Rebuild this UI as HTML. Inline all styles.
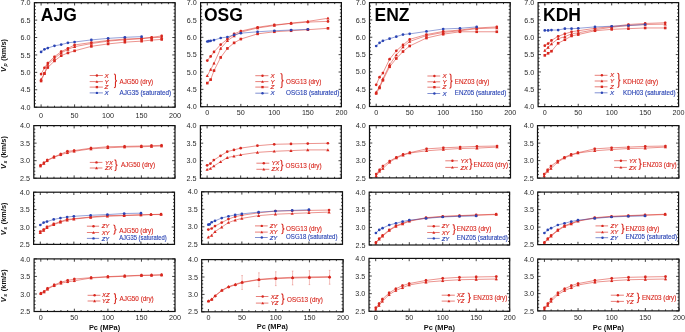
<!DOCTYPE html>
<html><head><meta charset="utf-8"><style>
html,body{margin:0;padding:0;background:#fff;}
body{width:685px;height:332px;overflow:hidden;}
svg{display:block;will-change:transform;}
text{font-family:"Liberation Sans",sans-serif;}
.tl{font-size:7.2px;fill:#2a2a2a;}
.li1{font-size:6.2px;font-style:italic;stroke-width:0.15px;}
.li2{font-size:5.9px;font-style:italic;stroke-width:0.15px;}
.li3{font-size:5.9px;font-style:italic;stroke-width:0.15px;}
.lt{font-size:6.5px;stroke-width:0.12px;}
.big{font-size:17.5px;font-weight:bold;fill:#000;}
.ax{font-size:7.4px;font-weight:bold;fill:#111;}
</style></head><body>
<svg width="685" height="332" viewBox="0 0 685 332">
<rect width="685" height="332" fill="#fff"/>
<path d="M41.1 107.2v-2.8M41.1 2.7v2.8M47.8 107.2v-1.5M47.8 2.7v1.5M54.5 107.2v-1.5M54.5 2.7v1.5M61.2 107.2v-1.5M61.2 2.7v1.5M67.9 107.2v-1.5M67.9 2.7v1.5M74.6 107.2v-2.8M74.6 2.7v2.8M81.3 107.2v-1.5M81.3 2.7v1.5M88 107.2v-1.5M88 2.7v1.5M94.7 107.2v-1.5M94.7 2.7v1.5M101.4 107.2v-1.5M101.4 2.7v1.5M108.1 107.2v-2.8M108.1 2.7v2.8M114.8 107.2v-1.5M114.8 2.7v1.5M121.5 107.2v-1.5M121.5 2.7v1.5M128.2 107.2v-1.5M128.2 2.7v1.5M134.9 107.2v-1.5M134.9 2.7v1.5M141.6 107.2v-2.8M141.6 2.7v2.8M148.3 107.2v-1.5M148.3 2.7v1.5M155 107.2v-1.5M155 2.7v1.5M161.7 107.2v-1.5M161.7 2.7v1.5M168.4 107.2v-1.5M168.4 2.7v1.5M175.1 107.2v-2.8M175.1 2.7v2.8M34.4 107.2h2.8M175.1 107.2h-2.8M34.4 103.72h1.5M175.1 103.72h-1.5M34.4 100.23h1.5M175.1 100.23h-1.5M34.4 96.75h1.5M175.1 96.75h-1.5M34.4 93.27h1.5M175.1 93.27h-1.5M34.4 89.78h2.8M175.1 89.78h-2.8M34.4 86.3h1.5M175.1 86.3h-1.5M34.4 82.82h1.5M175.1 82.82h-1.5M34.4 79.33h1.5M175.1 79.33h-1.5M34.4 75.85h1.5M175.1 75.85h-1.5M34.4 72.37h2.8M175.1 72.37h-2.8M34.4 68.88h1.5M175.1 68.88h-1.5M34.4 65.4h1.5M175.1 65.4h-1.5M34.4 61.92h1.5M175.1 61.92h-1.5M34.4 58.43h1.5M175.1 58.43h-1.5M34.4 54.95h2.8M175.1 54.95h-2.8M34.4 51.47h1.5M175.1 51.47h-1.5M34.4 47.98h1.5M175.1 47.98h-1.5M34.4 44.5h1.5M175.1 44.5h-1.5M34.4 41.02h1.5M175.1 41.02h-1.5M34.4 37.53h2.8M175.1 37.53h-2.8M34.4 34.05h1.5M175.1 34.05h-1.5M34.4 30.57h1.5M175.1 30.57h-1.5M34.4 27.08h1.5M175.1 27.08h-1.5M34.4 23.6h1.5M175.1 23.6h-1.5M34.4 20.12h2.8M175.1 20.12h-2.8M34.4 16.63h1.5M175.1 16.63h-1.5M34.4 13.15h1.5M175.1 13.15h-1.5M34.4 9.67h1.5M175.1 9.67h-1.5M34.4 6.18h1.5M175.1 6.18h-1.5M34.4 2.7h2.8M175.1 2.7h-2.8" stroke="#111" stroke-width="0.8" fill="none"/>
<polyline points="41.1,74.07 44.45,67.83 47.8,62.98 54.5,56.74 61.2,51.54 67.9,48.42 74.6,44.95 91.35,42.52 108.1,40.44 124.85,39.06 141.6,38.36 151.65,37.32 161.7,35.94" fill="none" stroke="#d8281f" stroke-width="0.5"/>
<path d="M41.1 73.38V74.77M40.3 73.38h1.6M40.3 74.77h1.6M44.45 67.14V68.53M43.65 67.14h1.6M43.65 68.53h1.6M47.8 62.29V63.67M47 62.29h1.6M47 63.67h1.6M54.5 56.05V57.43M53.7 56.05h1.6M53.7 57.43h1.6M61.2 50.84V52.23M60.4 50.84h1.6M60.4 52.23h1.6M67.9 47.72V49.11M67.1 47.72h1.6M67.1 49.11h1.6M74.6 44.26V45.64M73.8 44.26h1.6M73.8 45.64h1.6M91.35 41.83V43.22M90.55 41.83h1.6M90.55 43.22h1.6M108.1 39.75V41.14M107.3 39.75h1.6M107.3 41.14h1.6M124.85 38.36V39.75M124.05 38.36h1.6M124.05 39.75h1.6M141.6 37.67V39.06M140.8 37.67h1.6M140.8 39.06h1.6M151.65 36.63V38.02M150.85 36.63h1.6M150.85 38.02h1.6M161.7 35.24V36.63M160.9 35.24h1.6M160.9 36.63h1.6" stroke="#d8281f" stroke-width="0.4" stroke-opacity="0.75" fill="none"/>
<circle cx="41.1" cy="74.07" r="1.35" fill="#d8281f"/>
<circle cx="44.45" cy="67.83" r="1.35" fill="#d8281f"/>
<circle cx="47.8" cy="62.98" r="1.35" fill="#d8281f"/>
<circle cx="54.5" cy="56.74" r="1.35" fill="#d8281f"/>
<circle cx="61.2" cy="51.54" r="1.35" fill="#d8281f"/>
<circle cx="67.9" cy="48.42" r="1.35" fill="#d8281f"/>
<circle cx="74.6" cy="44.95" r="1.35" fill="#d8281f"/>
<circle cx="91.35" cy="42.52" r="1.35" fill="#d8281f"/>
<circle cx="108.1" cy="40.44" r="1.35" fill="#d8281f"/>
<circle cx="124.85" cy="39.06" r="1.35" fill="#d8281f"/>
<circle cx="141.6" cy="38.36" r="1.35" fill="#d8281f"/>
<circle cx="151.65" cy="37.32" r="1.35" fill="#d8281f"/>
<circle cx="161.7" cy="35.94" r="1.35" fill="#d8281f"/>
<polyline points="41.1,79.27 44.45,73.38 47.8,64.37 54.5,58.47 61.2,52.92 67.9,49.46 74.6,46.68 91.35,43.56 108.1,41.14 124.85,39.75 141.6,38.71 151.65,37.67 161.7,37.32" fill="none" stroke="#d8281f" stroke-width="0.5"/>
<path d="M41.1 78.58V79.97M40.3 78.58h1.6M40.3 79.97h1.6M44.45 72.69V74.07M43.65 72.69h1.6M43.65 74.07h1.6M47.8 63.67V65.06M47 63.67h1.6M47 65.06h1.6M54.5 57.78V59.17M53.7 57.78h1.6M53.7 59.17h1.6M61.2 52.23V53.62M60.4 52.23h1.6M60.4 53.62h1.6M67.9 48.76V50.15M67.1 48.76h1.6M67.1 50.15h1.6M74.6 45.99V47.38M73.8 45.99h1.6M73.8 47.38h1.6M91.35 42.87V44.26M90.55 42.87h1.6M90.55 44.26h1.6M108.1 40.44V41.83M107.3 40.44h1.6M107.3 41.83h1.6M124.85 39.06V40.44M124.05 39.06h1.6M124.05 40.44h1.6M141.6 38.02V39.4M140.8 38.02h1.6M140.8 39.4h1.6M151.65 36.98V38.36M150.85 36.98h1.6M150.85 38.36h1.6M161.7 36.63V38.02M160.9 36.63h1.6M160.9 38.02h1.6" stroke="#d8281f" stroke-width="0.4" stroke-opacity="0.75" fill="none"/>
<path d="M41.1 77.67L42.7 80.55L39.5 80.55Z" fill="#d8281f"/>
<path d="M44.45 71.78L46.05 74.66L42.85 74.66Z" fill="#d8281f"/>
<path d="M47.8 62.77L49.4 65.65L46.2 65.65Z" fill="#d8281f"/>
<path d="M54.5 56.87L56.1 59.75L52.9 59.75Z" fill="#d8281f"/>
<path d="M61.2 51.32L62.8 54.2L59.6 54.2Z" fill="#d8281f"/>
<path d="M67.9 47.86L69.5 50.74L66.3 50.74Z" fill="#d8281f"/>
<path d="M74.6 45.08L76.2 47.96L73 47.96Z" fill="#d8281f"/>
<path d="M91.35 41.96L92.95 44.84L89.75 44.84Z" fill="#d8281f"/>
<path d="M108.1 39.54L109.7 42.42L106.5 42.42Z" fill="#d8281f"/>
<path d="M124.85 38.15L126.45 41.03L123.25 41.03Z" fill="#d8281f"/>
<path d="M141.6 37.11L143.2 39.99L140 39.99Z" fill="#d8281f"/>
<path d="M151.65 36.07L153.25 38.95L150.05 38.95Z" fill="#d8281f"/>
<path d="M161.7 35.72L163.3 38.6L160.1 38.6Z" fill="#d8281f"/>
<polyline points="41.1,81.01 44.45,73.38 47.8,67.49 54.5,60.9 61.2,55.7 67.9,52.92 74.6,50.84 91.35,46.34 108.1,43.91 124.85,42.18 141.6,41.14 151.65,40.1 161.7,39.4" fill="none" stroke="#d8281f" stroke-width="0.5"/>
<path d="M41.1 80.31V81.7M40.3 80.31h1.6M40.3 81.7h1.6M44.45 72.69V74.07M43.65 72.69h1.6M43.65 74.07h1.6M47.8 66.79V68.18M47 66.79h1.6M47 68.18h1.6M54.5 60.21V61.59M53.7 60.21h1.6M53.7 61.59h1.6M61.2 55.01V56.39M60.4 55.01h1.6M60.4 56.39h1.6M67.9 52.23V53.62M67.1 52.23h1.6M67.1 53.62h1.6M74.6 50.15V51.54M73.8 50.15h1.6M73.8 51.54h1.6M91.35 45.64V47.03M90.55 45.64h1.6M90.55 47.03h1.6M108.1 43.22V44.6M107.3 43.22h1.6M107.3 44.6h1.6M124.85 41.48V42.87M124.05 41.48h1.6M124.05 42.87h1.6M141.6 40.44V41.83M140.8 40.44h1.6M140.8 41.83h1.6M151.65 39.4V40.79M150.85 39.4h1.6M150.85 40.79h1.6M161.7 38.71V40.1M160.9 38.71h1.6M160.9 40.1h1.6" stroke="#d8281f" stroke-width="0.4" stroke-opacity="0.75" fill="none"/>
<rect x="39.8" y="79.71" width="2.6" height="2.6" fill="#d8281f"/>
<rect x="43.15" y="72.08" width="2.6" height="2.6" fill="#d8281f"/>
<rect x="46.5" y="66.19" width="2.6" height="2.6" fill="#d8281f"/>
<rect x="53.2" y="59.6" width="2.6" height="2.6" fill="#d8281f"/>
<rect x="59.9" y="54.4" width="2.6" height="2.6" fill="#d8281f"/>
<rect x="66.6" y="51.62" width="2.6" height="2.6" fill="#d8281f"/>
<rect x="73.3" y="49.54" width="2.6" height="2.6" fill="#d8281f"/>
<rect x="90.05" y="45.04" width="2.6" height="2.6" fill="#d8281f"/>
<rect x="106.8" y="42.61" width="2.6" height="2.6" fill="#d8281f"/>
<rect x="123.55" y="40.88" width="2.6" height="2.6" fill="#d8281f"/>
<rect x="140.3" y="39.84" width="2.6" height="2.6" fill="#d8281f"/>
<rect x="150.35" y="38.8" width="2.6" height="2.6" fill="#d8281f"/>
<rect x="160.4" y="38.1" width="2.6" height="2.6" fill="#d8281f"/>
<polyline points="41.1,51.88 44.45,49.28 47.8,48.07 54.5,45.82 61.2,44.6 67.9,42.87 74.6,42 91.35,39.92 108.1,38.36 124.85,37.32 141.6,36.63" fill="none" stroke="#2a44b4" stroke-width="0.5"/>
<circle cx="41.1" cy="51.88" r="1.35" fill="#2a44b4"/>
<circle cx="44.45" cy="49.28" r="1.35" fill="#2a44b4"/>
<circle cx="47.8" cy="48.07" r="1.35" fill="#2a44b4"/>
<circle cx="54.5" cy="45.82" r="1.35" fill="#2a44b4"/>
<circle cx="61.2" cy="44.6" r="1.35" fill="#2a44b4"/>
<circle cx="67.9" cy="42.87" r="1.35" fill="#2a44b4"/>
<circle cx="74.6" cy="42" r="1.35" fill="#2a44b4"/>
<circle cx="91.35" cy="39.92" r="1.35" fill="#2a44b4"/>
<circle cx="108.1" cy="38.36" r="1.35" fill="#2a44b4"/>
<circle cx="124.85" cy="37.32" r="1.35" fill="#2a44b4"/>
<circle cx="141.6" cy="36.63" r="1.35" fill="#2a44b4"/>
<rect x="34.4" y="2.7" width="140.7" height="104.5" fill="none" stroke="#111" stroke-width="1.2"/>
<text x="30.6" y="109.8" class="tl" text-anchor="end">4.0</text>
<text x="30.6" y="92.38" class="tl" text-anchor="end">4.5</text>
<text x="30.6" y="74.97" class="tl" text-anchor="end">5.0</text>
<text x="30.6" y="57.55" class="tl" text-anchor="end">5.5</text>
<text x="30.6" y="40.13" class="tl" text-anchor="end">6.0</text>
<text x="30.6" y="22.72" class="tl" text-anchor="end">6.5</text>
<text x="30.6" y="5.3" class="tl" text-anchor="end">7.0</text>
<text x="41.1" y="117.6" class="tl" text-anchor="middle">0</text>
<text x="74.6" y="117.6" class="tl" text-anchor="middle">50</text>
<text x="108.1" y="117.6" class="tl" text-anchor="middle">100</text>
<text x="141.6" y="117.6" class="tl" text-anchor="middle">150</text>
<text x="175.1" y="117.6" class="tl" text-anchor="middle">200</text>
<path d="M89.7 75.5H102.9" stroke="#d8281f" stroke-width="0.6"/>
<circle cx="96.9" cy="75.5" r="1.22" fill="#d8281f"/>
<text x="104.5" y="77.6" class="li1" fill="#d8281f" stroke="#d8281f">X</text>
<path d="M89.7 81.6H102.9" stroke="#d8281f" stroke-width="0.6"/>
<path d="M96.9 80.16L98.34 82.75L95.46 82.75Z" fill="#d8281f"/>
<text x="104.5" y="83.7" class="li1" fill="#d8281f" stroke="#d8281f">Y</text>
<path d="M89.7 87.1H102.9" stroke="#d8281f" stroke-width="0.6"/>
<rect x="95.73" y="85.93" width="2.34" height="2.34" fill="#d8281f"/>
<text x="104.5" y="89.2" class="li1" fill="#d8281f" stroke="#d8281f">Z</text>
<path d="M89.7 92.9H102.9" stroke="#2a44b4" stroke-width="0.6"/>
<circle cx="96.9" cy="92.9" r="1.22" fill="#2a44b4"/>
<text x="104.5" y="95" class="li1" fill="#2a44b4" stroke="#2a44b4">X</text>
<path d="M113.95 74Q115.45 74 115.45 75.5V79.35Q115.45 80.85 116.95 80.85Q115.45 80.85 115.45 82.35V86.2Q115.45 87.7 113.95 87.7" stroke="#d8281f" stroke-width="1.1" fill="none"/>
<text x="119.5" y="84.4" class="lt" fill="#d8281f" stroke="#d8281f" textLength="33.6" lengthAdjust="spacingAndGlyphs">AJG50 (dry)</text>
<text x="119.5" y="95.3" class="lt" fill="#2a44b4" stroke="#2a44b4" textLength="51.5" lengthAdjust="spacingAndGlyphs">AJG35 (saturated)</text>
<text x="40.8" y="21" class="big">AJG</text>
<path d="M207.3 106.7v-2.8M207.3 2.6v2.8M214.01 106.7v-1.5M214.01 2.6v1.5M220.71 106.7v-1.5M220.71 2.6v1.5M227.42 106.7v-1.5M227.42 2.6v1.5M234.12 106.7v-1.5M234.12 2.6v1.5M240.83 106.7v-2.8M240.83 2.6v2.8M247.53 106.7v-1.5M247.53 2.6v1.5M254.24 106.7v-1.5M254.24 2.6v1.5M260.94 106.7v-1.5M260.94 2.6v1.5M267.65 106.7v-1.5M267.65 2.6v1.5M274.35 106.7v-2.8M274.35 2.6v2.8M281.06 106.7v-1.5M281.06 2.6v1.5M287.76 106.7v-1.5M287.76 2.6v1.5M294.47 106.7v-1.5M294.47 2.6v1.5M301.17 106.7v-1.5M301.17 2.6v1.5M307.88 106.7v-2.8M307.88 2.6v2.8M314.58 106.7v-1.5M314.58 2.6v1.5M321.29 106.7v-1.5M321.29 2.6v1.5M327.99 106.7v-1.5M327.99 2.6v1.5M334.7 106.7v-1.5M334.7 2.6v1.5M341.4 106.7v-2.8M341.4 2.6v2.8M200.6 106.7h2.8M341.4 106.7h-2.8M200.6 103.23h1.5M341.4 103.23h-1.5M200.6 99.76h1.5M341.4 99.76h-1.5M200.6 96.29h1.5M341.4 96.29h-1.5M200.6 92.82h1.5M341.4 92.82h-1.5M200.6 89.35h2.8M341.4 89.35h-2.8M200.6 85.88h1.5M341.4 85.88h-1.5M200.6 82.41h1.5M341.4 82.41h-1.5M200.6 78.94h1.5M341.4 78.94h-1.5M200.6 75.47h1.5M341.4 75.47h-1.5M200.6 72h2.8M341.4 72h-2.8M200.6 68.53h1.5M341.4 68.53h-1.5M200.6 65.06h1.5M341.4 65.06h-1.5M200.6 61.59h1.5M341.4 61.59h-1.5M200.6 58.12h1.5M341.4 58.12h-1.5M200.6 54.65h2.8M341.4 54.65h-2.8M200.6 51.18h1.5M341.4 51.18h-1.5M200.6 47.71h1.5M341.4 47.71h-1.5M200.6 44.24h1.5M341.4 44.24h-1.5M200.6 40.77h1.5M341.4 40.77h-1.5M200.6 37.3h2.8M341.4 37.3h-2.8M200.6 33.83h1.5M341.4 33.83h-1.5M200.6 30.36h1.5M341.4 30.36h-1.5M200.6 26.89h1.5M341.4 26.89h-1.5M200.6 23.42h1.5M341.4 23.42h-1.5M200.6 19.95h2.8M341.4 19.95h-2.8M200.6 16.48h1.5M341.4 16.48h-1.5M200.6 13.01h1.5M341.4 13.01h-1.5M200.6 9.54h1.5M341.4 9.54h-1.5M200.6 6.07h1.5M341.4 6.07h-1.5M200.6 2.6h2.8M341.4 2.6h-2.8" stroke="#111" stroke-width="0.8" fill="none"/>
<polyline points="207.3,60.55 210.66,56.39 214.01,51.88 220.71,44.6 227.42,39.06 234.12,33.86 240.83,31.08 257.59,27.27 274.35,24.84 291.11,23.46 307.88,22.07 327.99,21.38" fill="none" stroke="#d8281f" stroke-width="0.5"/>
<path d="M207.3 59.86V61.25M206.5 59.86h1.6M206.5 61.25h1.6M210.66 55.7V57.09M209.86 55.7h1.6M209.86 57.09h1.6M214.01 51.19V52.58M213.21 51.19h1.6M213.21 52.58h1.6M220.71 43.91V45.3M219.91 43.91h1.6M219.91 45.3h1.6M227.42 38.36V39.75M226.62 38.36h1.6M226.62 39.75h1.6M234.12 33.16V34.55M233.32 33.16h1.6M233.32 34.55h1.6M240.83 30.39V31.78M240.03 30.39h1.6M240.03 31.78h1.6M257.59 26.58V27.96M256.79 26.58h1.6M256.79 27.96h1.6M274.35 24.15V25.54M273.55 24.15h1.6M273.55 25.54h1.6M291.11 22.76V24.15M290.31 22.76h1.6M290.31 24.15h1.6M307.88 21.38V22.76M307.08 21.38h1.6M307.08 22.76h1.6M327.99 20.68V22.07M327.19 20.68h1.6M327.19 22.07h1.6" stroke="#d8281f" stroke-width="0.4" stroke-opacity="0.75" fill="none"/>
<circle cx="207.3" cy="60.55" r="1.35" fill="#d8281f"/>
<circle cx="210.66" cy="56.39" r="1.35" fill="#d8281f"/>
<circle cx="214.01" cy="51.88" r="1.35" fill="#d8281f"/>
<circle cx="220.71" cy="44.6" r="1.35" fill="#d8281f"/>
<circle cx="227.42" cy="39.06" r="1.35" fill="#d8281f"/>
<circle cx="234.12" cy="33.86" r="1.35" fill="#d8281f"/>
<circle cx="240.83" cy="31.08" r="1.35" fill="#d8281f"/>
<circle cx="257.59" cy="27.27" r="1.35" fill="#d8281f"/>
<circle cx="274.35" cy="24.84" r="1.35" fill="#d8281f"/>
<circle cx="291.11" cy="23.46" r="1.35" fill="#d8281f"/>
<circle cx="307.88" cy="22.07" r="1.35" fill="#d8281f"/>
<circle cx="327.99" cy="21.38" r="1.35" fill="#d8281f"/>
<polyline points="207.3,75.81 210.66,69.57 214.01,63.33 220.71,48.42 227.42,40.79 234.12,35.94 240.83,32.12 257.59,27.96 274.35,25.54 291.11,23.11 307.88,21.38 327.99,18.25" fill="none" stroke="#d8281f" stroke-width="0.5"/>
<path d="M207.3 75.11V76.5M206.5 75.11h1.6M206.5 76.5h1.6M210.66 68.87V70.26M209.86 68.87h1.6M209.86 70.26h1.6M214.01 62.63V64.02M213.21 62.63h1.6M213.21 64.02h1.6M220.71 47.72V49.11M219.91 47.72h1.6M219.91 49.11h1.6M227.42 40.1V41.48M226.62 40.1h1.6M226.62 41.48h1.6M234.12 35.24V36.63M233.32 35.24h1.6M233.32 36.63h1.6M240.83 31.43V32.82M240.03 31.43h1.6M240.03 32.82h1.6M257.59 27.27V28.66M256.79 27.27h1.6M256.79 28.66h1.6M274.35 24.84V26.23M273.55 24.84h1.6M273.55 26.23h1.6M291.11 22.42V23.8M290.31 22.42h1.6M290.31 23.8h1.6M307.88 20.68V22.07M307.08 20.68h1.6M307.08 22.07h1.6M327.99 17.56V18.95M327.19 17.56h1.6M327.19 18.95h1.6" stroke="#d8281f" stroke-width="0.4" stroke-opacity="0.75" fill="none"/>
<path d="M207.3 74.21L208.9 77.09L205.7 77.09Z" fill="#d8281f"/>
<path d="M210.66 67.97L212.26 70.85L209.06 70.85Z" fill="#d8281f"/>
<path d="M214.01 61.73L215.61 64.61L212.41 64.61Z" fill="#d8281f"/>
<path d="M220.71 46.82L222.31 49.7L219.11 49.7Z" fill="#d8281f"/>
<path d="M227.42 39.19L229.02 42.07L225.82 42.07Z" fill="#d8281f"/>
<path d="M234.12 34.34L235.72 37.22L232.52 37.22Z" fill="#d8281f"/>
<path d="M240.83 30.52L242.43 33.4L239.23 33.4Z" fill="#d8281f"/>
<path d="M257.59 26.36L259.19 29.24L255.99 29.24Z" fill="#d8281f"/>
<path d="M274.35 23.94L275.95 26.82L272.75 26.82Z" fill="#d8281f"/>
<path d="M291.11 21.51L292.71 24.39L289.51 24.39Z" fill="#d8281f"/>
<path d="M307.88 19.78L309.48 22.66L306.28 22.66Z" fill="#d8281f"/>
<path d="M327.99 16.65L329.59 19.53L326.39 19.53Z" fill="#d8281f"/>
<polyline points="207.3,83.09 210.66,79.62 214.01,70.61 220.71,57.43 227.42,48.42 234.12,42.87 240.83,39.06 257.59,33.86 274.35,31.78 291.11,30.74 307.88,29.7 327.99,28.31" fill="none" stroke="#d8281f" stroke-width="0.5"/>
<path d="M207.3 82.39V83.78M206.5 82.39h1.6M206.5 83.78h1.6M210.66 78.93V80.31M209.86 78.93h1.6M209.86 80.31h1.6M214.01 69.91V71.3M213.21 69.91h1.6M213.21 71.3h1.6M220.71 56.74V58.13M219.91 56.74h1.6M219.91 58.13h1.6M227.42 47.72V49.11M226.62 47.72h1.6M226.62 49.11h1.6M234.12 42.18V43.56M233.32 42.18h1.6M233.32 43.56h1.6M240.83 38.36V39.75M240.03 38.36h1.6M240.03 39.75h1.6M257.59 33.16V34.55M256.79 33.16h1.6M256.79 34.55h1.6M274.35 31.08V32.47M273.55 31.08h1.6M273.55 32.47h1.6M291.11 30.04V31.43M290.31 30.04h1.6M290.31 31.43h1.6M307.88 29V30.39M307.08 29h1.6M307.08 30.39h1.6M327.99 27.62V29M327.19 27.62h1.6M327.19 29h1.6" stroke="#d8281f" stroke-width="0.4" stroke-opacity="0.75" fill="none"/>
<rect x="206" y="81.79" width="2.6" height="2.6" fill="#d8281f"/>
<rect x="209.36" y="78.32" width="2.6" height="2.6" fill="#d8281f"/>
<rect x="212.71" y="69.31" width="2.6" height="2.6" fill="#d8281f"/>
<rect x="219.41" y="56.13" width="2.6" height="2.6" fill="#d8281f"/>
<rect x="226.12" y="47.12" width="2.6" height="2.6" fill="#d8281f"/>
<rect x="232.82" y="41.57" width="2.6" height="2.6" fill="#d8281f"/>
<rect x="239.53" y="37.76" width="2.6" height="2.6" fill="#d8281f"/>
<rect x="256.29" y="32.56" width="2.6" height="2.6" fill="#d8281f"/>
<rect x="273.05" y="30.48" width="2.6" height="2.6" fill="#d8281f"/>
<rect x="289.81" y="29.44" width="2.6" height="2.6" fill="#d8281f"/>
<rect x="306.58" y="28.4" width="2.6" height="2.6" fill="#d8281f"/>
<rect x="326.69" y="27.01" width="2.6" height="2.6" fill="#d8281f"/>
<polyline points="207.3,41.48 208.65,41.14 210.66,40.79 214.01,40.1 220.71,38.02 227.42,36.98 234.12,34.9 240.83,33.16 257.59,31.78 274.35,30.74 291.11,30.04 307.88,29.35" fill="none" stroke="#2a44b4" stroke-width="0.5"/>
<circle cx="207.3" cy="41.48" r="1.35" fill="#2a44b4"/>
<circle cx="208.65" cy="41.14" r="1.35" fill="#2a44b4"/>
<circle cx="210.66" cy="40.79" r="1.35" fill="#2a44b4"/>
<circle cx="214.01" cy="40.1" r="1.35" fill="#2a44b4"/>
<circle cx="220.71" cy="38.02" r="1.35" fill="#2a44b4"/>
<circle cx="227.42" cy="36.98" r="1.35" fill="#2a44b4"/>
<circle cx="234.12" cy="34.9" r="1.35" fill="#2a44b4"/>
<circle cx="240.83" cy="33.16" r="1.35" fill="#2a44b4"/>
<circle cx="257.59" cy="31.78" r="1.35" fill="#2a44b4"/>
<circle cx="274.35" cy="30.74" r="1.35" fill="#2a44b4"/>
<circle cx="291.11" cy="30.04" r="1.35" fill="#2a44b4"/>
<circle cx="307.88" cy="29.35" r="1.35" fill="#2a44b4"/>
<rect x="200.6" y="2.6" width="140.8" height="104.1" fill="none" stroke="#111" stroke-width="1.2"/>
<text x="196.8" y="109.3" class="tl" text-anchor="end">4.0</text>
<text x="196.8" y="91.95" class="tl" text-anchor="end">4.5</text>
<text x="196.8" y="74.6" class="tl" text-anchor="end">5.0</text>
<text x="196.8" y="57.25" class="tl" text-anchor="end">5.5</text>
<text x="196.8" y="39.9" class="tl" text-anchor="end">6.0</text>
<text x="196.8" y="22.55" class="tl" text-anchor="end">6.5</text>
<text x="196.8" y="5.2" class="tl" text-anchor="end">7.0</text>
<text x="207.3" y="115.4" class="tl" text-anchor="middle">0</text>
<text x="240.83" y="115.4" class="tl" text-anchor="middle">50</text>
<text x="274.35" y="115.4" class="tl" text-anchor="middle">100</text>
<text x="307.88" y="115.4" class="tl" text-anchor="middle">150</text>
<text x="341.4" y="115.4" class="tl" text-anchor="middle">200</text>
<path d="M255.3 75.7H268.4" stroke="#d8281f" stroke-width="0.6"/>
<circle cx="262.5" cy="75.7" r="1.22" fill="#d8281f"/>
<text x="270.4" y="77.8" class="li1" fill="#d8281f" stroke="#d8281f">X</text>
<path d="M255.3 81.6H268.4" stroke="#d8281f" stroke-width="0.6"/>
<path d="M262.5 80.16L263.94 82.75L261.06 82.75Z" fill="#d8281f"/>
<text x="270.4" y="83.7" class="li1" fill="#d8281f" stroke="#d8281f">Y</text>
<path d="M255.3 87.1H268.4" stroke="#d8281f" stroke-width="0.6"/>
<rect x="261.33" y="85.93" width="2.34" height="2.34" fill="#d8281f"/>
<text x="270.4" y="89.2" class="li1" fill="#d8281f" stroke="#d8281f">Z</text>
<path d="M255.3 93.2H268.4" stroke="#2a44b4" stroke-width="0.6"/>
<circle cx="262.5" cy="93.2" r="1.22" fill="#2a44b4"/>
<text x="270.4" y="95.3" class="li1" fill="#2a44b4" stroke="#2a44b4">X</text>
<path d="M280.5 73.5Q282 73.5 282 75V79.1Q282 80.6 283.5 80.6Q282 80.6 282 82.1V86.2Q282 87.7 280.5 87.7" stroke="#d8281f" stroke-width="1.1" fill="none"/>
<text x="286.1" y="84" class="lt" fill="#d8281f" stroke="#d8281f" textLength="35.2" lengthAdjust="spacingAndGlyphs">OSG13 (dry)</text>
<text x="286.1" y="95.3" class="lt" fill="#2a44b4" stroke="#2a44b4" textLength="53.3" lengthAdjust="spacingAndGlyphs">OSG18 (saturated)</text>
<text x="203.9" y="21" class="big">OSG</text>
<path d="M376.2 106.5v-2.8M376.2 2.6v2.8M382.9 106.5v-1.5M382.9 2.6v1.5M389.6 106.5v-1.5M389.6 2.6v1.5M396.3 106.5v-1.5M396.3 2.6v1.5M403 106.5v-1.5M403 2.6v1.5M409.7 106.5v-2.8M409.7 2.6v2.8M416.4 106.5v-1.5M416.4 2.6v1.5M423.1 106.5v-1.5M423.1 2.6v1.5M429.8 106.5v-1.5M429.8 2.6v1.5M436.5 106.5v-1.5M436.5 2.6v1.5M443.2 106.5v-2.8M443.2 2.6v2.8M449.9 106.5v-1.5M449.9 2.6v1.5M456.6 106.5v-1.5M456.6 2.6v1.5M463.3 106.5v-1.5M463.3 2.6v1.5M470 106.5v-1.5M470 2.6v1.5M476.7 106.5v-2.8M476.7 2.6v2.8M483.4 106.5v-1.5M483.4 2.6v1.5M490.1 106.5v-1.5M490.1 2.6v1.5M496.8 106.5v-1.5M496.8 2.6v1.5M503.5 106.5v-1.5M503.5 2.6v1.5M510.2 106.5v-2.8M510.2 2.6v2.8M369.5 106.5h2.8M510.2 106.5h-2.8M369.5 103.04h1.5M510.2 103.04h-1.5M369.5 99.57h1.5M510.2 99.57h-1.5M369.5 96.11h1.5M510.2 96.11h-1.5M369.5 92.65h1.5M510.2 92.65h-1.5M369.5 89.18h2.8M510.2 89.18h-2.8M369.5 85.72h1.5M510.2 85.72h-1.5M369.5 82.26h1.5M510.2 82.26h-1.5M369.5 78.79h1.5M510.2 78.79h-1.5M369.5 75.33h1.5M510.2 75.33h-1.5M369.5 71.87h2.8M510.2 71.87h-2.8M369.5 68.4h1.5M510.2 68.4h-1.5M369.5 64.94h1.5M510.2 64.94h-1.5M369.5 61.48h1.5M510.2 61.48h-1.5M369.5 58.01h1.5M510.2 58.01h-1.5M369.5 54.55h2.8M510.2 54.55h-2.8M369.5 51.09h1.5M510.2 51.09h-1.5M369.5 47.62h1.5M510.2 47.62h-1.5M369.5 44.16h1.5M510.2 44.16h-1.5M369.5 40.7h1.5M510.2 40.7h-1.5M369.5 37.23h2.8M510.2 37.23h-2.8M369.5 33.77h1.5M510.2 33.77h-1.5M369.5 30.31h1.5M510.2 30.31h-1.5M369.5 26.84h1.5M510.2 26.84h-1.5M369.5 23.38h1.5M510.2 23.38h-1.5M369.5 19.92h2.8M510.2 19.92h-2.8M369.5 16.45h1.5M510.2 16.45h-1.5M369.5 12.99h1.5M510.2 12.99h-1.5M369.5 9.53h1.5M510.2 9.53h-1.5M369.5 6.06h1.5M510.2 6.06h-1.5M369.5 2.6h2.8M510.2 2.6h-2.8" stroke="#111" stroke-width="0.8" fill="none"/>
<polyline points="376.2,84.82 379.55,77.19 382.9,73.03 389.6,59.17 396.3,50.84 403,44.95 409.7,39.4 426.45,34.55 443.2,31.43 459.95,30.04 476.7,27.96 496.8,26.92" fill="none" stroke="#d8281f" stroke-width="0.5"/>
<path d="M376.2 84.13V85.51M375.4 84.13h1.6M375.4 85.51h1.6M379.55 76.5V77.89M378.75 76.5h1.6M378.75 77.89h1.6M382.9 72.34V73.73M382.1 72.34h1.6M382.1 73.73h1.6M389.6 58.47V59.86M388.8 58.47h1.6M388.8 59.86h1.6M396.3 50.15V51.54M395.5 50.15h1.6M395.5 51.54h1.6M403 44.26V45.64M402.2 44.26h1.6M402.2 45.64h1.6M409.7 38.71V40.1M408.9 38.71h1.6M408.9 40.1h1.6M426.45 33.86V35.24M425.65 33.86h1.6M425.65 35.24h1.6M443.2 30.74V32.12M442.4 30.74h1.6M442.4 32.12h1.6M459.95 29.35V30.74M459.15 29.35h1.6M459.15 30.74h1.6M476.7 27.27V28.66M475.9 27.27h1.6M475.9 28.66h1.6M496.8 26.23V27.62M496 26.23h1.6M496 27.62h1.6" stroke="#d8281f" stroke-width="0.4" stroke-opacity="0.75" fill="none"/>
<circle cx="376.2" cy="84.82" r="1.35" fill="#d8281f"/>
<circle cx="379.55" cy="77.19" r="1.35" fill="#d8281f"/>
<circle cx="382.9" cy="73.03" r="1.35" fill="#d8281f"/>
<circle cx="389.6" cy="59.17" r="1.35" fill="#d8281f"/>
<circle cx="396.3" cy="50.84" r="1.35" fill="#d8281f"/>
<circle cx="403" cy="44.95" r="1.35" fill="#d8281f"/>
<circle cx="409.7" cy="39.4" r="1.35" fill="#d8281f"/>
<circle cx="426.45" cy="34.55" r="1.35" fill="#d8281f"/>
<circle cx="443.2" cy="31.43" r="1.35" fill="#d8281f"/>
<circle cx="459.95" cy="30.04" r="1.35" fill="#d8281f"/>
<circle cx="476.7" cy="27.96" r="1.35" fill="#d8281f"/>
<circle cx="496.8" cy="26.92" r="1.35" fill="#d8281f"/>
<polyline points="376.2,92.1 379.55,86.55 382.9,78.93 389.6,64.71 396.3,55.01 403,47.03 409.7,41.48 426.45,35.59 443.2,32.47 459.95,30.74 476.7,28.66 496.8,27.96" fill="none" stroke="#d8281f" stroke-width="0.5"/>
<path d="M376.2 91.41V92.8M375.4 91.41h1.6M375.4 92.8h1.6M379.55 85.86V87.25M378.75 85.86h1.6M378.75 87.25h1.6M382.9 78.23V79.62M382.1 78.23h1.6M382.1 79.62h1.6M389.6 64.02V65.41M388.8 64.02h1.6M388.8 65.41h1.6M396.3 54.31V55.7M395.5 54.31h1.6M395.5 55.7h1.6M403 46.34V47.72M402.2 46.34h1.6M402.2 47.72h1.6M409.7 40.79V42.18M408.9 40.79h1.6M408.9 42.18h1.6M426.45 34.9V36.28M425.65 34.9h1.6M425.65 36.28h1.6M443.2 31.78V33.16M442.4 31.78h1.6M442.4 33.16h1.6M459.95 30.04V31.43M459.15 30.04h1.6M459.15 31.43h1.6M476.7 27.96V29.35M475.9 27.96h1.6M475.9 29.35h1.6M496.8 27.27V28.66M496 27.27h1.6M496 28.66h1.6" stroke="#d8281f" stroke-width="0.4" stroke-opacity="0.75" fill="none"/>
<path d="M376.2 90.5L377.8 93.38L374.6 93.38Z" fill="#d8281f"/>
<path d="M379.55 84.95L381.15 87.83L377.95 87.83Z" fill="#d8281f"/>
<path d="M382.9 77.33L384.5 80.21L381.3 80.21Z" fill="#d8281f"/>
<path d="M389.6 63.11L391.2 65.99L388 65.99Z" fill="#d8281f"/>
<path d="M396.3 53.41L397.9 56.29L394.7 56.29Z" fill="#d8281f"/>
<path d="M403 45.43L404.6 48.31L401.4 48.31Z" fill="#d8281f"/>
<path d="M409.7 39.88L411.3 42.76L408.1 42.76Z" fill="#d8281f"/>
<path d="M426.45 33.99L428.05 36.87L424.85 36.87Z" fill="#d8281f"/>
<path d="M443.2 30.87L444.8 33.75L441.6 33.75Z" fill="#d8281f"/>
<path d="M459.95 29.14L461.55 32.02L458.35 32.02Z" fill="#d8281f"/>
<path d="M476.7 27.06L478.3 29.94L475.1 29.94Z" fill="#d8281f"/>
<path d="M496.8 26.36L498.4 29.24L495.2 29.24Z" fill="#d8281f"/>
<polyline points="376.2,93.49 379.55,87.94 382.9,80.31 389.6,66.79 396.3,58.47 403,51.54 409.7,45.99 426.45,38.02 443.2,34.2 459.95,31.78 476.7,31.78 496.8,31.78" fill="none" stroke="#d8281f" stroke-width="0.5"/>
<path d="M376.2 92.8V94.18M375.4 92.8h1.6M375.4 94.18h1.6M379.55 87.25V88.63M378.75 87.25h1.6M378.75 88.63h1.6M382.9 79.62V81.01M382.1 79.62h1.6M382.1 81.01h1.6M389.6 66.1V67.49M388.8 66.1h1.6M388.8 67.49h1.6M396.3 57.78V59.17M395.5 57.78h1.6M395.5 59.17h1.6M403 50.84V52.23M402.2 50.84h1.6M402.2 52.23h1.6M409.7 45.3V46.68M408.9 45.3h1.6M408.9 46.68h1.6M426.45 37.32V38.71M425.65 37.32h1.6M425.65 38.71h1.6M443.2 33.51V34.9M442.4 33.51h1.6M442.4 34.9h1.6M459.95 31.08V32.47M459.15 31.08h1.6M459.15 32.47h1.6M476.7 31.08V32.47M475.9 31.08h1.6M475.9 32.47h1.6M496.8 31.08V32.47M496 31.08h1.6M496 32.47h1.6" stroke="#d8281f" stroke-width="0.4" stroke-opacity="0.75" fill="none"/>
<rect x="374.9" y="92.19" width="2.6" height="2.6" fill="#d8281f"/>
<rect x="378.25" y="86.64" width="2.6" height="2.6" fill="#d8281f"/>
<rect x="381.6" y="79.01" width="2.6" height="2.6" fill="#d8281f"/>
<rect x="388.3" y="65.49" width="2.6" height="2.6" fill="#d8281f"/>
<rect x="395" y="57.17" width="2.6" height="2.6" fill="#d8281f"/>
<rect x="401.7" y="50.24" width="2.6" height="2.6" fill="#d8281f"/>
<rect x="408.4" y="44.69" width="2.6" height="2.6" fill="#d8281f"/>
<rect x="425.15" y="36.72" width="2.6" height="2.6" fill="#d8281f"/>
<rect x="441.9" y="32.9" width="2.6" height="2.6" fill="#d8281f"/>
<rect x="458.65" y="30.48" width="2.6" height="2.6" fill="#d8281f"/>
<rect x="475.4" y="30.48" width="2.6" height="2.6" fill="#d8281f"/>
<rect x="495.5" y="30.48" width="2.6" height="2.6" fill="#d8281f"/>
<polyline points="376.2,45.99 379.55,42.87 382.9,40.79 389.6,38.71 396.3,36.63 403,34.55 409.7,33.86 426.45,31.43 443.2,29 459.95,28.31 476.7,26.92" fill="none" stroke="#2a44b4" stroke-width="0.5"/>
<circle cx="376.2" cy="45.99" r="1.35" fill="#2a44b4"/>
<circle cx="379.55" cy="42.87" r="1.35" fill="#2a44b4"/>
<circle cx="382.9" cy="40.79" r="1.35" fill="#2a44b4"/>
<circle cx="389.6" cy="38.71" r="1.35" fill="#2a44b4"/>
<circle cx="396.3" cy="36.63" r="1.35" fill="#2a44b4"/>
<circle cx="403" cy="34.55" r="1.35" fill="#2a44b4"/>
<circle cx="409.7" cy="33.86" r="1.35" fill="#2a44b4"/>
<circle cx="426.45" cy="31.43" r="1.35" fill="#2a44b4"/>
<circle cx="443.2" cy="29" r="1.35" fill="#2a44b4"/>
<circle cx="459.95" cy="28.31" r="1.35" fill="#2a44b4"/>
<circle cx="476.7" cy="26.92" r="1.35" fill="#2a44b4"/>
<rect x="369.5" y="2.6" width="140.7" height="103.9" fill="none" stroke="#111" stroke-width="1.2"/>
<text x="365.7" y="109.1" class="tl" text-anchor="end">4.0</text>
<text x="365.7" y="91.78" class="tl" text-anchor="end">4.5</text>
<text x="365.7" y="74.47" class="tl" text-anchor="end">5.0</text>
<text x="365.7" y="57.15" class="tl" text-anchor="end">5.5</text>
<text x="365.7" y="39.83" class="tl" text-anchor="end">6.0</text>
<text x="365.7" y="22.52" class="tl" text-anchor="end">6.5</text>
<text x="365.7" y="5.2" class="tl" text-anchor="end">7.0</text>
<text x="376.2" y="115.4" class="tl" text-anchor="middle">0</text>
<text x="409.7" y="115.4" class="tl" text-anchor="middle">50</text>
<text x="443.2" y="115.4" class="tl" text-anchor="middle">100</text>
<text x="476.7" y="115.4" class="tl" text-anchor="middle">150</text>
<text x="510.2" y="115.4" class="tl" text-anchor="middle">200</text>
<path d="M427.4 76H440.2" stroke="#d8281f" stroke-width="0.6"/>
<circle cx="434.4" cy="76" r="1.22" fill="#d8281f"/>
<text x="442.5" y="78.1" class="li1" fill="#d8281f" stroke="#d8281f">X</text>
<path d="M427.4 81.8H440.2" stroke="#d8281f" stroke-width="0.6"/>
<path d="M434.4 80.36L435.84 82.95L432.96 82.95Z" fill="#d8281f"/>
<text x="442.5" y="83.9" class="li1" fill="#d8281f" stroke="#d8281f">Y</text>
<path d="M427.4 87.2H440.2" stroke="#d8281f" stroke-width="0.6"/>
<rect x="433.23" y="86.03" width="2.34" height="2.34" fill="#d8281f"/>
<text x="442.5" y="89.3" class="li1" fill="#d8281f" stroke="#d8281f">Z</text>
<path d="M427.4 93.5H440.2" stroke="#2a44b4" stroke-width="0.6"/>
<circle cx="434.4" cy="93.5" r="1.22" fill="#2a44b4"/>
<text x="442.5" y="95.6" class="li1" fill="#2a44b4" stroke="#2a44b4">X</text>
<path d="M449.45 74Q450.95 74 450.95 75.5V79.65Q450.95 81.15 452.45 81.15Q450.95 81.15 450.95 82.65V86.8Q450.95 88.3 449.45 88.3" stroke="#d8281f" stroke-width="1.1" fill="none"/>
<text x="454.8" y="84.2" class="lt" fill="#d8281f" stroke="#d8281f" textLength="34.5" lengthAdjust="spacingAndGlyphs">ENZ03 (dry)</text>
<text x="454.8" y="95.3" class="lt" fill="#2a44b4" stroke="#2a44b4" textLength="51.5" lengthAdjust="spacingAndGlyphs">ENZ05 (saturated)</text>
<text x="374.5" y="21" class="big">ENZ</text>
<path d="M544.79 106.6v-2.8M544.79 2.6v2.8M551.48 106.6v-1.5M551.48 2.6v1.5M558.17 106.6v-1.5M558.17 2.6v1.5M564.86 106.6v-1.5M564.86 2.6v1.5M571.55 106.6v-1.5M571.55 2.6v1.5M578.24 106.6v-2.8M578.24 2.6v2.8M584.93 106.6v-1.5M584.93 2.6v1.5M591.62 106.6v-1.5M591.62 2.6v1.5M598.31 106.6v-1.5M598.31 2.6v1.5M605 106.6v-1.5M605 2.6v1.5M611.7 106.6v-2.8M611.7 2.6v2.8M618.39 106.6v-1.5M618.39 2.6v1.5M625.08 106.6v-1.5M625.08 2.6v1.5M631.77 106.6v-1.5M631.77 2.6v1.5M638.46 106.6v-1.5M638.46 2.6v1.5M645.15 106.6v-2.8M645.15 2.6v2.8M651.84 106.6v-1.5M651.84 2.6v1.5M658.53 106.6v-1.5M658.53 2.6v1.5M665.22 106.6v-1.5M665.22 2.6v1.5M671.91 106.6v-1.5M671.91 2.6v1.5M678.6 106.6v-2.8M678.6 2.6v2.8M538.1 106.6h2.8M678.6 106.6h-2.8M538.1 103.13h1.5M678.6 103.13h-1.5M538.1 99.67h1.5M678.6 99.67h-1.5M538.1 96.2h1.5M678.6 96.2h-1.5M538.1 92.73h1.5M678.6 92.73h-1.5M538.1 89.27h2.8M678.6 89.27h-2.8M538.1 85.8h1.5M678.6 85.8h-1.5M538.1 82.33h1.5M678.6 82.33h-1.5M538.1 78.87h1.5M678.6 78.87h-1.5M538.1 75.4h1.5M678.6 75.4h-1.5M538.1 71.93h2.8M678.6 71.93h-2.8M538.1 68.47h1.5M678.6 68.47h-1.5M538.1 65h1.5M678.6 65h-1.5M538.1 61.53h1.5M678.6 61.53h-1.5M538.1 58.07h1.5M678.6 58.07h-1.5M538.1 54.6h2.8M678.6 54.6h-2.8M538.1 51.13h1.5M678.6 51.13h-1.5M538.1 47.67h1.5M678.6 47.67h-1.5M538.1 44.2h1.5M678.6 44.2h-1.5M538.1 40.73h1.5M678.6 40.73h-1.5M538.1 37.27h2.8M678.6 37.27h-2.8M538.1 33.8h1.5M678.6 33.8h-1.5M538.1 30.33h1.5M678.6 30.33h-1.5M538.1 26.87h1.5M678.6 26.87h-1.5M538.1 23.4h1.5M678.6 23.4h-1.5M538.1 19.93h2.8M678.6 19.93h-2.8M538.1 16.47h1.5M678.6 16.47h-1.5M538.1 13h1.5M678.6 13h-1.5M538.1 9.53h1.5M678.6 9.53h-1.5M538.1 6.07h1.5M678.6 6.07h-1.5M538.1 2.6h2.8M678.6 2.6h-2.8" stroke="#111" stroke-width="0.8" fill="none"/>
<polyline points="544.79,45.64 548.14,43.56 551.48,40.44 558.17,36.28 564.86,33.86 571.55,31.78 578.24,30.74 594.97,28.31 611.7,26.58 628.42,24.5 645.15,23.46 665.22,22.76" fill="none" stroke="#d8281f" stroke-width="0.5"/>
<path d="M544.79 44.95V46.34M543.99 44.95h1.6M543.99 46.34h1.6M548.14 42.87V44.26M547.34 42.87h1.6M547.34 44.26h1.6M551.48 39.75V41.14M550.68 39.75h1.6M550.68 41.14h1.6M558.17 35.59V36.98M557.37 35.59h1.6M557.37 36.98h1.6M564.86 33.16V34.55M564.06 33.16h1.6M564.06 34.55h1.6M571.55 31.08V32.47M570.75 31.08h1.6M570.75 32.47h1.6M578.24 30.04V31.43M577.44 30.04h1.6M577.44 31.43h1.6M594.97 27.62V29M594.17 27.62h1.6M594.17 29h1.6M611.7 25.88V27.27M610.9 25.88h1.6M610.9 27.27h1.6M628.42 23.8V25.19M627.62 23.8h1.6M627.62 25.19h1.6M645.15 22.76V24.15M644.35 22.76h1.6M644.35 24.15h1.6M665.22 22.07V23.46M664.42 22.07h1.6M664.42 23.46h1.6" stroke="#d8281f" stroke-width="0.4" stroke-opacity="0.75" fill="none"/>
<circle cx="544.79" cy="45.64" r="1.35" fill="#d8281f"/>
<circle cx="548.14" cy="43.56" r="1.35" fill="#d8281f"/>
<circle cx="551.48" cy="40.44" r="1.35" fill="#d8281f"/>
<circle cx="558.17" cy="36.28" r="1.35" fill="#d8281f"/>
<circle cx="564.86" cy="33.86" r="1.35" fill="#d8281f"/>
<circle cx="571.55" cy="31.78" r="1.35" fill="#d8281f"/>
<circle cx="578.24" cy="30.74" r="1.35" fill="#d8281f"/>
<circle cx="594.97" cy="28.31" r="1.35" fill="#d8281f"/>
<circle cx="611.7" cy="26.58" r="1.35" fill="#d8281f"/>
<circle cx="628.42" cy="24.5" r="1.35" fill="#d8281f"/>
<circle cx="645.15" cy="23.46" r="1.35" fill="#d8281f"/>
<circle cx="665.22" cy="22.76" r="1.35" fill="#d8281f"/>
<polyline points="544.79,50.5 548.14,47.38 551.48,43.91 558.17,38.71 564.86,36.63 571.55,33.86 578.24,32.82 594.97,29.7 611.7,27.27 628.42,25.54 645.15,24.5 665.22,24.15" fill="none" stroke="#d8281f" stroke-width="0.5"/>
<path d="M544.79 49.8V51.19M543.99 49.8h1.6M543.99 51.19h1.6M548.14 46.68V48.07M547.34 46.68h1.6M547.34 48.07h1.6M551.48 43.22V44.6M550.68 43.22h1.6M550.68 44.6h1.6M558.17 38.02V39.4M557.37 38.02h1.6M557.37 39.4h1.6M564.86 35.94V37.32M564.06 35.94h1.6M564.06 37.32h1.6M571.55 33.16V34.55M570.75 33.16h1.6M570.75 34.55h1.6M578.24 32.12V33.51M577.44 32.12h1.6M577.44 33.51h1.6M594.97 29V30.39M594.17 29h1.6M594.17 30.39h1.6M611.7 26.58V27.96M610.9 26.58h1.6M610.9 27.96h1.6M628.42 24.84V26.23M627.62 24.84h1.6M627.62 26.23h1.6M645.15 23.8V25.19M644.35 23.8h1.6M644.35 25.19h1.6M665.22 23.46V24.84M664.42 23.46h1.6M664.42 24.84h1.6" stroke="#d8281f" stroke-width="0.4" stroke-opacity="0.75" fill="none"/>
<path d="M544.79 48.9L546.39 51.78L543.19 51.78Z" fill="#d8281f"/>
<path d="M548.14 45.78L549.74 48.66L546.54 48.66Z" fill="#d8281f"/>
<path d="M551.48 42.31L553.08 45.19L549.88 45.19Z" fill="#d8281f"/>
<path d="M558.17 37.11L559.77 39.99L556.57 39.99Z" fill="#d8281f"/>
<path d="M564.86 35.03L566.46 37.91L563.26 37.91Z" fill="#d8281f"/>
<path d="M571.55 32.26L573.15 35.14L569.95 35.14Z" fill="#d8281f"/>
<path d="M578.24 31.22L579.84 34.1L576.64 34.1Z" fill="#d8281f"/>
<path d="M594.97 28.1L596.57 30.98L593.37 30.98Z" fill="#d8281f"/>
<path d="M611.7 25.67L613.3 28.55L610.1 28.55Z" fill="#d8281f"/>
<path d="M628.42 23.94L630.02 26.82L626.82 26.82Z" fill="#d8281f"/>
<path d="M645.15 22.9L646.75 25.78L643.55 25.78Z" fill="#d8281f"/>
<path d="M665.22 22.55L666.82 25.43L663.62 25.43Z" fill="#d8281f"/>
<polyline points="544.79,55.35 548.14,53.27 551.48,51.19 558.17,43.22 564.86,39.75 571.55,35.94 578.24,34.55 594.97,30.74 611.7,29.35 628.42,28.66 645.15,27.96 665.22,27.96" fill="none" stroke="#d8281f" stroke-width="0.5"/>
<path d="M544.79 54.66V56.05M543.99 54.66h1.6M543.99 56.05h1.6M548.14 52.58V53.96M547.34 52.58h1.6M547.34 53.96h1.6M551.48 50.5V51.88M550.68 50.5h1.6M550.68 51.88h1.6M558.17 42.52V43.91M557.37 42.52h1.6M557.37 43.91h1.6M564.86 39.06V40.44M564.06 39.06h1.6M564.06 40.44h1.6M571.55 35.24V36.63M570.75 35.24h1.6M570.75 36.63h1.6M578.24 33.86V35.24M577.44 33.86h1.6M577.44 35.24h1.6M594.97 30.04V31.43M594.17 30.04h1.6M594.17 31.43h1.6M611.7 28.66V30.04M610.9 28.66h1.6M610.9 30.04h1.6M628.42 27.96V29.35M627.62 27.96h1.6M627.62 29.35h1.6M645.15 27.27V28.66M644.35 27.27h1.6M644.35 28.66h1.6M665.22 27.27V28.66M664.42 27.27h1.6M664.42 28.66h1.6" stroke="#d8281f" stroke-width="0.4" stroke-opacity="0.75" fill="none"/>
<rect x="543.49" y="54.05" width="2.6" height="2.6" fill="#d8281f"/>
<rect x="546.84" y="51.97" width="2.6" height="2.6" fill="#d8281f"/>
<rect x="550.18" y="49.89" width="2.6" height="2.6" fill="#d8281f"/>
<rect x="556.87" y="41.92" width="2.6" height="2.6" fill="#d8281f"/>
<rect x="563.56" y="38.45" width="2.6" height="2.6" fill="#d8281f"/>
<rect x="570.25" y="34.64" width="2.6" height="2.6" fill="#d8281f"/>
<rect x="576.94" y="33.25" width="2.6" height="2.6" fill="#d8281f"/>
<rect x="593.67" y="29.44" width="2.6" height="2.6" fill="#d8281f"/>
<rect x="610.4" y="28.05" width="2.6" height="2.6" fill="#d8281f"/>
<rect x="627.12" y="27.36" width="2.6" height="2.6" fill="#d8281f"/>
<rect x="643.85" y="26.66" width="2.6" height="2.6" fill="#d8281f"/>
<rect x="663.92" y="26.66" width="2.6" height="2.6" fill="#d8281f"/>
<polyline points="544.79,30.39 548.14,30.39 551.48,30.04 558.17,30.04 564.86,28.66 571.55,28.66 578.24,28.31 594.97,26.92 611.7,26.23 628.42,25.54 645.15,24.5" fill="none" stroke="#2a44b4" stroke-width="0.5"/>
<circle cx="544.79" cy="30.39" r="1.35" fill="#2a44b4"/>
<circle cx="548.14" cy="30.39" r="1.35" fill="#2a44b4"/>
<circle cx="551.48" cy="30.04" r="1.35" fill="#2a44b4"/>
<circle cx="558.17" cy="30.04" r="1.35" fill="#2a44b4"/>
<circle cx="564.86" cy="28.66" r="1.35" fill="#2a44b4"/>
<circle cx="571.55" cy="28.66" r="1.35" fill="#2a44b4"/>
<circle cx="578.24" cy="28.31" r="1.35" fill="#2a44b4"/>
<circle cx="594.97" cy="26.92" r="1.35" fill="#2a44b4"/>
<circle cx="611.7" cy="26.23" r="1.35" fill="#2a44b4"/>
<circle cx="628.42" cy="25.54" r="1.35" fill="#2a44b4"/>
<circle cx="645.15" cy="24.5" r="1.35" fill="#2a44b4"/>
<rect x="538.1" y="2.6" width="140.5" height="104" fill="none" stroke="#111" stroke-width="1.2"/>
<text x="534.3" y="109.2" class="tl" text-anchor="end">4.0</text>
<text x="534.3" y="91.87" class="tl" text-anchor="end">4.5</text>
<text x="534.3" y="74.53" class="tl" text-anchor="end">5.0</text>
<text x="534.3" y="57.2" class="tl" text-anchor="end">5.5</text>
<text x="534.3" y="39.87" class="tl" text-anchor="end">6.0</text>
<text x="534.3" y="22.53" class="tl" text-anchor="end">6.5</text>
<text x="534.3" y="5.2" class="tl" text-anchor="end">7.0</text>
<text x="544.79" y="115.1" class="tl" text-anchor="middle">0</text>
<text x="578.24" y="115.1" class="tl" text-anchor="middle">50</text>
<text x="611.7" y="115.1" class="tl" text-anchor="middle">100</text>
<text x="645.15" y="115.1" class="tl" text-anchor="middle">150</text>
<text x="678.6" y="115.1" class="tl" text-anchor="middle">200</text>
<path d="M594.7 75.3H607.5" stroke="#d8281f" stroke-width="0.6"/>
<circle cx="601.9" cy="75.3" r="1.22" fill="#d8281f"/>
<text x="610" y="77.4" class="li1" fill="#d8281f" stroke="#d8281f">X</text>
<path d="M594.7 81H607.5" stroke="#d8281f" stroke-width="0.6"/>
<path d="M601.9 79.56L603.34 82.15L600.46 82.15Z" fill="#d8281f"/>
<text x="610" y="83.1" class="li1" fill="#d8281f" stroke="#d8281f">Y</text>
<path d="M594.7 86.8H607.5" stroke="#d8281f" stroke-width="0.6"/>
<rect x="600.73" y="85.63" width="2.34" height="2.34" fill="#d8281f"/>
<text x="610" y="88.9" class="li1" fill="#d8281f" stroke="#d8281f">Z</text>
<path d="M594.7 92.8H607.5" stroke="#2a44b4" stroke-width="0.6"/>
<circle cx="601.9" cy="92.8" r="1.22" fill="#2a44b4"/>
<text x="610" y="94.9" class="li1" fill="#2a44b4" stroke="#2a44b4">X</text>
<path d="M617.35 73.3Q618.85 73.3 618.85 74.8V78.9Q618.85 80.4 620.35 80.4Q618.85 80.4 618.85 81.9V86Q618.85 87.5 617.35 87.5" stroke="#d8281f" stroke-width="1.1" fill="none"/>
<text x="623.1" y="84.2" class="lt" fill="#d8281f" stroke="#d8281f" textLength="35" lengthAdjust="spacingAndGlyphs">KDH02 (dry)</text>
<text x="623.1" y="95.2" class="lt" fill="#2a44b4" stroke="#2a44b4" textLength="52.4" lengthAdjust="spacingAndGlyphs">KDH03 (saturated)</text>
<text x="543.1" y="21" class="big">KDH</text>
<path d="M40.52 178.2v-2.8M40.52 125.6v2.8M47.25 178.2v-1.5M47.25 125.6v1.5M53.97 178.2v-1.5M53.97 125.6v1.5M60.7 178.2v-1.5M60.7 125.6v1.5M67.42 178.2v-1.5M67.42 125.6v1.5M74.14 178.2v-2.8M74.14 125.6v2.8M80.87 178.2v-1.5M80.87 125.6v1.5M87.59 178.2v-1.5M87.59 125.6v1.5M94.31 178.2v-1.5M94.31 125.6v1.5M101.04 178.2v-1.5M101.04 125.6v1.5M107.76 178.2v-2.8M107.76 125.6v2.8M114.49 178.2v-1.5M114.49 125.6v1.5M121.21 178.2v-1.5M121.21 125.6v1.5M127.93 178.2v-1.5M127.93 125.6v1.5M134.66 178.2v-1.5M134.66 125.6v1.5M141.38 178.2v-2.8M141.38 125.6v2.8M148.1 178.2v-1.5M148.1 125.6v1.5M154.83 178.2v-1.5M154.83 125.6v1.5M161.55 178.2v-1.5M161.55 125.6v1.5M168.28 178.2v-1.5M168.28 125.6v1.5M175 178.2v-2.8M175 125.6v2.8M33.8 178.2h2.8M175 178.2h-2.8M33.8 174.69h1.5M175 174.69h-1.5M33.8 171.19h1.5M175 171.19h-1.5M33.8 167.68h1.5M175 167.68h-1.5M33.8 164.17h1.5M175 164.17h-1.5M33.8 160.67h2.8M175 160.67h-2.8M33.8 157.16h1.5M175 157.16h-1.5M33.8 153.65h1.5M175 153.65h-1.5M33.8 150.15h1.5M175 150.15h-1.5M33.8 146.64h1.5M175 146.64h-1.5M33.8 143.13h2.8M175 143.13h-2.8M33.8 139.63h1.5M175 139.63h-1.5M33.8 136.12h1.5M175 136.12h-1.5M33.8 132.61h1.5M175 132.61h-1.5M33.8 129.11h1.5M175 129.11h-1.5M33.8 125.6h2.8M175 125.6h-2.8" stroke="#111" stroke-width="0.8" fill="none"/>
<polyline points="40.52,165.33 43.89,162.87 47.25,160.07 53.97,156.91 60.7,154.11 67.42,151.3 74.14,150.6 90.95,148.14 107.76,146.74 124.57,146.39 141.38,146.04 151.47,145.69 161.55,145.34" fill="none" stroke="#d8281f" stroke-width="0.5"/>
<path d="M40.52 164.28V166.38M39.72 164.28h1.6M39.72 166.38h1.6M43.89 161.82V163.93M43.09 161.82h1.6M43.09 163.93h1.6M47.25 159.02V161.12M46.45 159.02h1.6M46.45 161.12h1.6M53.97 155.86V157.96M53.17 155.86h1.6M53.17 157.96h1.6M60.7 153.05V155.16M59.9 153.05h1.6M59.9 155.16h1.6M67.42 150.25V152.35M66.62 150.25h1.6M66.62 152.35h1.6M74.14 149.55V151.65M73.34 149.55h1.6M73.34 151.65h1.6M90.95 147.09V149.2M90.15 147.09h1.6M90.15 149.2h1.6M107.76 145.69V147.79M106.96 145.69h1.6M106.96 147.79h1.6M124.57 145.34V147.44M123.77 145.34h1.6M123.77 147.44h1.6M141.38 144.99V147.09M140.58 144.99h1.6M140.58 147.09h1.6M151.47 144.64V146.74M150.67 144.64h1.6M150.67 146.74h1.6M161.55 144.29V146.39M160.75 144.29h1.6M160.75 146.39h1.6" stroke="#d8281f" stroke-width="0.4" stroke-opacity="0.75" fill="none"/>
<circle cx="40.52" cy="165.33" r="1.35" fill="#d8281f"/>
<circle cx="43.89" cy="162.87" r="1.35" fill="#d8281f"/>
<circle cx="47.25" cy="160.07" r="1.35" fill="#d8281f"/>
<circle cx="53.97" cy="156.91" r="1.35" fill="#d8281f"/>
<circle cx="60.7" cy="154.11" r="1.35" fill="#d8281f"/>
<circle cx="67.42" cy="151.3" r="1.35" fill="#d8281f"/>
<circle cx="74.14" cy="150.6" r="1.35" fill="#d8281f"/>
<circle cx="90.95" cy="148.14" r="1.35" fill="#d8281f"/>
<circle cx="107.76" cy="146.74" r="1.35" fill="#d8281f"/>
<circle cx="124.57" cy="146.39" r="1.35" fill="#d8281f"/>
<circle cx="141.38" cy="146.04" r="1.35" fill="#d8281f"/>
<circle cx="151.47" cy="145.69" r="1.35" fill="#d8281f"/>
<circle cx="161.55" cy="145.34" r="1.35" fill="#d8281f"/>
<polyline points="40.52,166.03 43.89,163.58 47.25,160.77 53.97,157.26 60.7,154.81 67.42,152.7 74.14,151.3 90.95,148.85 107.76,147.79 124.57,147.09 141.38,146.74 151.47,146.39 161.55,146.04" fill="none" stroke="#d8281f" stroke-width="0.5"/>
<path d="M40.52 164.98V167.08M39.72 164.98h1.6M39.72 167.08h1.6M43.89 162.52V164.63M43.09 162.52h1.6M43.09 164.63h1.6M47.25 159.72V161.82M46.45 159.72h1.6M46.45 161.82h1.6M53.97 156.21V158.32M53.17 156.21h1.6M53.17 158.32h1.6M60.7 153.76V155.86M59.9 153.76h1.6M59.9 155.86h1.6M67.42 151.65V153.76M66.62 151.65h1.6M66.62 153.76h1.6M74.14 150.25V152.35M73.34 150.25h1.6M73.34 152.35h1.6M90.95 147.79V149.9M90.15 147.79h1.6M90.15 149.9h1.6M107.76 146.74V148.85M106.96 146.74h1.6M106.96 148.85h1.6M124.57 146.04V148.14M123.77 146.04h1.6M123.77 148.14h1.6M141.38 145.69V147.79M140.58 145.69h1.6M140.58 147.79h1.6M151.47 145.34V147.44M150.67 145.34h1.6M150.67 147.44h1.6M161.55 144.99V147.09M160.75 144.99h1.6M160.75 147.09h1.6" stroke="#d8281f" stroke-width="0.4" stroke-opacity="0.75" fill="none"/>
<path d="M40.52 164.43L42.12 167.31L38.92 167.31Z" fill="#d8281f"/>
<path d="M43.89 161.98L45.49 164.86L42.29 164.86Z" fill="#d8281f"/>
<path d="M47.25 159.17L48.85 162.05L45.65 162.05Z" fill="#d8281f"/>
<path d="M53.97 155.66L55.57 158.54L52.37 158.54Z" fill="#d8281f"/>
<path d="M60.7 153.21L62.3 156.09L59.1 156.09Z" fill="#d8281f"/>
<path d="M67.42 151.1L69.02 153.98L65.82 153.98Z" fill="#d8281f"/>
<path d="M74.14 149.7L75.74 152.58L72.54 152.58Z" fill="#d8281f"/>
<path d="M90.95 147.25L92.55 150.13L89.35 150.13Z" fill="#d8281f"/>
<path d="M107.76 146.19L109.36 149.07L106.16 149.07Z" fill="#d8281f"/>
<path d="M124.57 145.49L126.17 148.37L122.97 148.37Z" fill="#d8281f"/>
<path d="M141.38 145.14L142.98 148.02L139.78 148.02Z" fill="#d8281f"/>
<path d="M151.47 144.79L153.07 147.67L149.87 147.67Z" fill="#d8281f"/>
<path d="M161.55 144.44L163.15 147.32L159.95 147.32Z" fill="#d8281f"/>
<rect x="33.8" y="125.6" width="141.2" height="52.6" fill="none" stroke="#111" stroke-width="1.2"/>
<text x="30" y="180.8" class="tl" text-anchor="end">2.5</text>
<text x="30" y="163.27" class="tl" text-anchor="end">3.0</text>
<text x="30" y="145.73" class="tl" text-anchor="end">3.5</text>
<text x="30" y="128.2" class="tl" text-anchor="end">4.0</text>
<path d="M89.8 162.4H102.4" stroke="#d8281f" stroke-width="0.6"/>
<circle cx="96.5" cy="162.4" r="1.22" fill="#d8281f"/>
<text x="105" y="164.5" class="li2" fill="#d8281f" stroke="#d8281f">YX</text>
<path d="M89.8 168H102.4" stroke="#d8281f" stroke-width="0.6"/>
<path d="M96.5 166.56L97.94 169.15L95.06 169.15Z" fill="#d8281f"/>
<text x="105" y="170.1" class="li2" fill="#d8281f" stroke="#d8281f">ZX</text>
<path d="M114.5 159.9Q116 159.9 116 161.4V163.8Q116 165.3 117.5 165.3Q116 165.3 116 166.8V169.2Q116 170.7 114.5 170.7" stroke="#d8281f" stroke-width="1.1" fill="none"/>
<text x="120.9" y="167.2" class="lt" fill="#d8281f" stroke="#d8281f" textLength="34.2" lengthAdjust="spacingAndGlyphs">AJG50 (dry)</text>
<path d="M207.11 178.3v-2.8M207.11 125.6v2.8M213.82 178.3v-1.5M213.82 125.6v1.5M220.53 178.3v-1.5M220.53 125.6v1.5M227.24 178.3v-1.5M227.24 125.6v1.5M233.95 178.3v-1.5M233.95 125.6v1.5M240.66 178.3v-2.8M240.66 125.6v2.8M247.37 178.3v-1.5M247.37 125.6v1.5M254.08 178.3v-1.5M254.08 125.6v1.5M260.79 178.3v-1.5M260.79 125.6v1.5M267.5 178.3v-1.5M267.5 125.6v1.5M274.2 178.3v-2.8M274.2 125.6v2.8M280.91 178.3v-1.5M280.91 125.6v1.5M287.62 178.3v-1.5M287.62 125.6v1.5M294.33 178.3v-1.5M294.33 125.6v1.5M301.04 178.3v-1.5M301.04 125.6v1.5M307.75 178.3v-2.8M307.75 125.6v2.8M314.46 178.3v-1.5M314.46 125.6v1.5M321.17 178.3v-1.5M321.17 125.6v1.5M327.88 178.3v-1.5M327.88 125.6v1.5M334.59 178.3v-1.5M334.59 125.6v1.5M341.3 178.3v-2.8M341.3 125.6v2.8M200.4 178.3h2.8M341.3 178.3h-2.8M200.4 174.79h1.5M341.3 174.79h-1.5M200.4 171.27h1.5M341.3 171.27h-1.5M200.4 167.76h1.5M341.3 167.76h-1.5M200.4 164.25h1.5M341.3 164.25h-1.5M200.4 160.73h2.8M341.3 160.73h-2.8M200.4 157.22h1.5M341.3 157.22h-1.5M200.4 153.71h1.5M341.3 153.71h-1.5M200.4 150.19h1.5M341.3 150.19h-1.5M200.4 146.68h1.5M341.3 146.68h-1.5M200.4 143.17h2.8M341.3 143.17h-2.8M200.4 139.65h1.5M341.3 139.65h-1.5M200.4 136.14h1.5M341.3 136.14h-1.5M200.4 132.63h1.5M341.3 132.63h-1.5M200.4 129.11h1.5M341.3 129.11h-1.5M200.4 125.6h2.8M341.3 125.6h-2.8" stroke="#111" stroke-width="0.8" fill="none"/>
<polyline points="207.11,165.33 210.46,163.58 213.82,160.07 220.53,155.86 227.24,151.65 233.95,149.9 240.66,148.14 257.43,145.69 274.2,144.29 290.98,143.94 307.75,143.59 327.88,143.24" fill="none" stroke="#d8281f" stroke-width="0.5"/>
<circle cx="207.11" cy="165.33" r="1.35" fill="#d8281f"/>
<circle cx="210.46" cy="163.58" r="1.35" fill="#d8281f"/>
<circle cx="213.82" cy="160.07" r="1.35" fill="#d8281f"/>
<circle cx="220.53" cy="155.86" r="1.35" fill="#d8281f"/>
<circle cx="227.24" cy="151.65" r="1.35" fill="#d8281f"/>
<circle cx="233.95" cy="149.9" r="1.35" fill="#d8281f"/>
<circle cx="240.66" cy="148.14" r="1.35" fill="#d8281f"/>
<circle cx="257.43" cy="145.69" r="1.35" fill="#d8281f"/>
<circle cx="274.2" cy="144.29" r="1.35" fill="#d8281f"/>
<circle cx="290.98" cy="143.94" r="1.35" fill="#d8281f"/>
<circle cx="307.75" cy="143.59" r="1.35" fill="#d8281f"/>
<circle cx="327.88" cy="143.24" r="1.35" fill="#d8281f"/>
<polyline points="207.11,169.54 210.46,168.49 213.82,166.03 220.53,161.82 227.24,157.61 233.95,156.21 240.66,154.81 257.43,152.35 274.2,151.3 290.98,150.6 307.75,149.9 327.88,149.9" fill="none" stroke="#d8281f" stroke-width="0.5"/>
<path d="M207.11 167.94L208.71 170.82L205.51 170.82Z" fill="#d8281f"/>
<path d="M210.46 166.89L212.06 169.77L208.86 169.77Z" fill="#d8281f"/>
<path d="M213.82 164.43L215.42 167.31L212.22 167.31Z" fill="#d8281f"/>
<path d="M220.53 160.22L222.13 163.1L218.93 163.1Z" fill="#d8281f"/>
<path d="M227.24 156.01L228.84 158.89L225.64 158.89Z" fill="#d8281f"/>
<path d="M233.95 154.61L235.55 157.49L232.35 157.49Z" fill="#d8281f"/>
<path d="M240.66 153.21L242.26 156.09L239.06 156.09Z" fill="#d8281f"/>
<path d="M257.43 150.75L259.03 153.63L255.83 153.63Z" fill="#d8281f"/>
<path d="M274.2 149.7L275.8 152.58L272.6 152.58Z" fill="#d8281f"/>
<path d="M290.98 149L292.58 151.88L289.38 151.88Z" fill="#d8281f"/>
<path d="M307.75 148.3L309.35 151.18L306.15 151.18Z" fill="#d8281f"/>
<path d="M327.88 148.3L329.48 151.18L326.28 151.18Z" fill="#d8281f"/>
<rect x="200.4" y="125.6" width="140.9" height="52.7" fill="none" stroke="#111" stroke-width="1.2"/>
<text x="196.6" y="180.9" class="tl" text-anchor="end">2.5</text>
<text x="196.6" y="163.33" class="tl" text-anchor="end">3.0</text>
<text x="196.6" y="145.77" class="tl" text-anchor="end">3.5</text>
<text x="196.6" y="128.2" class="tl" text-anchor="end">4.0</text>
<path d="M256.4 163.2H269.3" stroke="#d8281f" stroke-width="0.6"/>
<circle cx="263.8" cy="163.2" r="1.22" fill="#d8281f"/>
<text x="271.6" y="165.3" class="li2" fill="#d8281f" stroke="#d8281f">YX</text>
<path d="M256.4 169.3H269.3" stroke="#d8281f" stroke-width="0.6"/>
<path d="M263.8 167.86L265.24 170.45L262.36 170.45Z" fill="#d8281f"/>
<text x="271.6" y="171.4" class="li2" fill="#d8281f" stroke="#d8281f">ZX</text>
<path d="M280.3 160.3Q281.8 160.3 281.8 161.8V164.05Q281.8 165.55 283.3 165.55Q281.8 165.55 281.8 167.05V169.3Q281.8 170.8 280.3 170.8" stroke="#d8281f" stroke-width="1.1" fill="none"/>
<text x="285.6" y="167.9" class="lt" fill="#d8281f" stroke="#d8281f" textLength="36" lengthAdjust="spacingAndGlyphs">OSG13 (dry)</text>
<path d="M376.21 177.9v-2.8M376.21 125.6v2.8M382.93 177.9v-1.5M382.93 125.6v1.5M389.64 177.9v-1.5M389.64 125.6v1.5M396.36 177.9v-1.5M396.36 125.6v1.5M403.07 177.9v-1.5M403.07 125.6v1.5M409.79 177.9v-2.8M409.79 125.6v2.8M416.5 177.9v-1.5M416.5 125.6v1.5M423.21 177.9v-1.5M423.21 125.6v1.5M429.93 177.9v-1.5M429.93 125.6v1.5M436.64 177.9v-1.5M436.64 125.6v1.5M443.36 177.9v-2.8M443.36 125.6v2.8M450.07 177.9v-1.5M450.07 125.6v1.5M456.79 177.9v-1.5M456.79 125.6v1.5M463.5 177.9v-1.5M463.5 125.6v1.5M470.21 177.9v-1.5M470.21 125.6v1.5M476.93 177.9v-2.8M476.93 125.6v2.8M483.64 177.9v-1.5M483.64 125.6v1.5M490.36 177.9v-1.5M490.36 125.6v1.5M497.07 177.9v-1.5M497.07 125.6v1.5M503.79 177.9v-1.5M503.79 125.6v1.5M510.5 177.9v-2.8M510.5 125.6v2.8M369.5 177.9h2.8M510.5 177.9h-2.8M369.5 174.41h1.5M510.5 174.41h-1.5M369.5 170.93h1.5M510.5 170.93h-1.5M369.5 167.44h1.5M510.5 167.44h-1.5M369.5 163.95h1.5M510.5 163.95h-1.5M369.5 160.47h2.8M510.5 160.47h-2.8M369.5 156.98h1.5M510.5 156.98h-1.5M369.5 153.49h1.5M510.5 153.49h-1.5M369.5 150.01h1.5M510.5 150.01h-1.5M369.5 146.52h1.5M510.5 146.52h-1.5M369.5 143.03h2.8M510.5 143.03h-2.8M369.5 139.55h1.5M510.5 139.55h-1.5M369.5 136.06h1.5M510.5 136.06h-1.5M369.5 132.57h1.5M510.5 132.57h-1.5M369.5 129.09h1.5M510.5 129.09h-1.5M369.5 125.6h2.8M510.5 125.6h-2.8" stroke="#111" stroke-width="0.8" fill="none"/>
<polyline points="376.21,174.1 379.57,169.89 382.93,166.03 389.64,161.12 396.36,157.26 403.07,154.46 409.79,152.7 426.57,148.85 443.36,147.79 460.14,147.09 476.93,146.39 497.07,146.04" fill="none" stroke="#d8281f" stroke-width="0.5"/>
<path d="M376.21 173.4V174.8M375.41 173.4h1.6M375.41 174.8h1.6M379.57 169.19V170.59M378.77 169.19h1.6M378.77 170.59h1.6M382.93 165.33V166.73M382.13 165.33h1.6M382.13 166.73h1.6M389.64 160.42V161.82M388.84 160.42h1.6M388.84 161.82h1.6M396.36 156.56V157.96M395.56 156.56h1.6M395.56 157.96h1.6M403.07 153.76V155.16M402.27 153.76h1.6M402.27 155.16h1.6M409.79 152V153.41M408.99 152h1.6M408.99 153.41h1.6M426.57 148.14V149.55M425.77 148.14h1.6M425.77 149.55h1.6M443.36 147.09V148.5M442.56 147.09h1.6M442.56 148.5h1.6M460.14 146.39V147.79M459.34 146.39h1.6M459.34 147.79h1.6M476.93 145.69V147.09M476.13 145.69h1.6M476.13 147.09h1.6M497.07 145.34V146.74M496.27 145.34h1.6M496.27 146.74h1.6" stroke="#d8281f" stroke-width="0.4" stroke-opacity="0.75" fill="none"/>
<circle cx="376.21" cy="174.1" r="1.35" fill="#d8281f"/>
<circle cx="379.57" cy="169.89" r="1.35" fill="#d8281f"/>
<circle cx="382.93" cy="166.03" r="1.35" fill="#d8281f"/>
<circle cx="389.64" cy="161.12" r="1.35" fill="#d8281f"/>
<circle cx="396.36" cy="157.26" r="1.35" fill="#d8281f"/>
<circle cx="403.07" cy="154.46" r="1.35" fill="#d8281f"/>
<circle cx="409.79" cy="152.7" r="1.35" fill="#d8281f"/>
<circle cx="426.57" cy="148.85" r="1.35" fill="#d8281f"/>
<circle cx="443.36" cy="147.79" r="1.35" fill="#d8281f"/>
<circle cx="460.14" cy="147.09" r="1.35" fill="#d8281f"/>
<circle cx="476.93" cy="146.39" r="1.35" fill="#d8281f"/>
<circle cx="497.07" cy="146.04" r="1.35" fill="#d8281f"/>
<polyline points="376.21,175.85 379.57,171.29 382.93,168.49 389.64,162.17 396.36,157.96 403.07,155.16 409.79,153.05 426.57,150.78 443.36,149.55 460.14,148.5 476.93,148.14 497.07,147.09" fill="none" stroke="#d8281f" stroke-width="0.5"/>
<path d="M376.21 175.15V176.55M375.41 175.15h1.6M375.41 176.55h1.6M379.57 170.59V171.99M378.77 170.59h1.6M378.77 171.99h1.6M382.93 167.78V169.19M382.13 167.78h1.6M382.13 169.19h1.6M389.64 161.47V162.87M388.84 161.47h1.6M388.84 162.87h1.6M396.36 157.26V158.67M395.56 157.26h1.6M395.56 158.67h1.6M403.07 154.46V155.86M402.27 154.46h1.6M402.27 155.86h1.6M409.79 152.35V153.76M408.99 152.35h1.6M408.99 153.76h1.6M426.57 150.07V151.48M425.77 150.07h1.6M425.77 151.48h1.6M443.36 148.85V150.25M442.56 148.85h1.6M442.56 150.25h1.6M460.14 147.79V149.2M459.34 147.79h1.6M459.34 149.2h1.6M476.93 147.44V148.85M476.13 147.44h1.6M476.13 148.85h1.6M497.07 146.39V147.79M496.27 146.39h1.6M496.27 147.79h1.6" stroke="#d8281f" stroke-width="0.4" stroke-opacity="0.75" fill="none"/>
<path d="M376.21 174.25L377.81 177.13L374.61 177.13Z" fill="#d8281f"/>
<path d="M379.57 169.69L381.17 172.57L377.97 172.57Z" fill="#d8281f"/>
<path d="M382.93 166.89L384.53 169.77L381.33 169.77Z" fill="#d8281f"/>
<path d="M389.64 160.57L391.24 163.45L388.04 163.45Z" fill="#d8281f"/>
<path d="M396.36 156.36L397.96 159.24L394.76 159.24Z" fill="#d8281f"/>
<path d="M403.07 153.56L404.67 156.44L401.47 156.44Z" fill="#d8281f"/>
<path d="M409.79 151.45L411.39 154.33L408.19 154.33Z" fill="#d8281f"/>
<path d="M426.57 149.18L428.17 152.06L424.97 152.06Z" fill="#d8281f"/>
<path d="M443.36 147.95L444.96 150.83L441.76 150.83Z" fill="#d8281f"/>
<path d="M460.14 146.9L461.74 149.78L458.54 149.78Z" fill="#d8281f"/>
<path d="M476.93 146.54L478.53 149.42L475.33 149.42Z" fill="#d8281f"/>
<path d="M497.07 145.49L498.67 148.37L495.47 148.37Z" fill="#d8281f"/>
<rect x="369.5" y="125.6" width="141" height="52.3" fill="none" stroke="#111" stroke-width="1.2"/>
<text x="365.7" y="180.5" class="tl" text-anchor="end">2.5</text>
<text x="365.7" y="163.07" class="tl" text-anchor="end">3.0</text>
<text x="365.7" y="145.63" class="tl" text-anchor="end">3.5</text>
<text x="365.7" y="128.2" class="tl" text-anchor="end">4.0</text>
<path d="M445.3 160.8H457.9" stroke="#d8281f" stroke-width="0.6"/>
<circle cx="452.4" cy="160.8" r="1.22" fill="#d8281f"/>
<text x="460.5" y="162.9" class="li2" fill="#d8281f" stroke="#d8281f">YX</text>
<path d="M445.3 167.4H457.9" stroke="#d8281f" stroke-width="0.6"/>
<path d="M452.4 165.96L453.84 168.55L450.96 168.55Z" fill="#d8281f"/>
<text x="460.5" y="169.5" class="li2" fill="#d8281f" stroke="#d8281f">ZX</text>
<path d="M469.4 158.9Q470.9 158.9 470.9 160.4V162.7Q470.9 164.2 472.4 164.2Q470.9 164.2 470.9 165.7V168Q470.9 169.5 469.4 169.5" stroke="#d8281f" stroke-width="1.1" fill="none"/>
<text x="473.4" y="166.8" class="lt" fill="#d8281f" stroke="#d8281f" textLength="34.7" lengthAdjust="spacingAndGlyphs">ENZ03 (dry)</text>
<path d="M544.23 178.1v-2.8M544.23 125.6v2.8M550.97 178.1v-1.5M550.97 125.6v1.5M557.7 178.1v-1.5M557.7 125.6v1.5M564.43 178.1v-1.5M564.43 125.6v1.5M571.17 178.1v-1.5M571.17 125.6v1.5M577.9 178.1v-2.8M577.9 125.6v2.8M584.63 178.1v-1.5M584.63 125.6v1.5M591.37 178.1v-1.5M591.37 125.6v1.5M598.1 178.1v-1.5M598.1 125.6v1.5M604.83 178.1v-1.5M604.83 125.6v1.5M611.57 178.1v-2.8M611.57 125.6v2.8M618.3 178.1v-1.5M618.3 125.6v1.5M625.03 178.1v-1.5M625.03 125.6v1.5M631.77 178.1v-1.5M631.77 125.6v1.5M638.5 178.1v-1.5M638.5 125.6v1.5M645.23 178.1v-2.8M645.23 125.6v2.8M651.97 178.1v-1.5M651.97 125.6v1.5M658.7 178.1v-1.5M658.7 125.6v1.5M665.43 178.1v-1.5M665.43 125.6v1.5M672.17 178.1v-1.5M672.17 125.6v1.5M678.9 178.1v-2.8M678.9 125.6v2.8M537.5 178.1h2.8M678.9 178.1h-2.8M537.5 174.6h1.5M678.9 174.6h-1.5M537.5 171.1h1.5M678.9 171.1h-1.5M537.5 167.6h1.5M678.9 167.6h-1.5M537.5 164.1h1.5M678.9 164.1h-1.5M537.5 160.6h2.8M678.9 160.6h-2.8M537.5 157.1h1.5M678.9 157.1h-1.5M537.5 153.6h1.5M678.9 153.6h-1.5M537.5 150.1h1.5M678.9 150.1h-1.5M537.5 146.6h1.5M678.9 146.6h-1.5M537.5 143.1h2.8M678.9 143.1h-2.8M537.5 139.6h1.5M678.9 139.6h-1.5M537.5 136.1h1.5M678.9 136.1h-1.5M537.5 132.6h1.5M678.9 132.6h-1.5M537.5 129.1h1.5M678.9 129.1h-1.5M537.5 125.6h2.8M678.9 125.6h-2.8" stroke="#111" stroke-width="0.8" fill="none"/>
<polyline points="544.23,174.1 547.6,169.89 550.97,166.03 557.7,161.12 564.43,157.26 571.17,154.46 577.9,152.7 594.73,148.85 611.57,147.79 628.4,147.09 645.23,146.39 665.43,146.04" fill="none" stroke="#d8281f" stroke-width="0.5"/>
<path d="M544.23 173.4V174.8M543.43 173.4h1.6M543.43 174.8h1.6M547.6 169.19V170.59M546.8 169.19h1.6M546.8 170.59h1.6M550.97 165.33V166.73M550.17 165.33h1.6M550.17 166.73h1.6M557.7 160.42V161.82M556.9 160.42h1.6M556.9 161.82h1.6M564.43 156.56V157.96M563.63 156.56h1.6M563.63 157.96h1.6M571.17 153.76V155.16M570.37 153.76h1.6M570.37 155.16h1.6M577.9 152V153.41M577.1 152h1.6M577.1 153.41h1.6M594.73 148.14V149.55M593.93 148.14h1.6M593.93 149.55h1.6M611.57 147.09V148.5M610.77 147.09h1.6M610.77 148.5h1.6M628.4 146.39V147.79M627.6 146.39h1.6M627.6 147.79h1.6M645.23 145.69V147.09M644.43 145.69h1.6M644.43 147.09h1.6M665.43 145.34V146.74M664.63 145.34h1.6M664.63 146.74h1.6" stroke="#d8281f" stroke-width="0.4" stroke-opacity="0.75" fill="none"/>
<circle cx="544.23" cy="174.1" r="1.35" fill="#d8281f"/>
<circle cx="547.6" cy="169.89" r="1.35" fill="#d8281f"/>
<circle cx="550.97" cy="166.03" r="1.35" fill="#d8281f"/>
<circle cx="557.7" cy="161.12" r="1.35" fill="#d8281f"/>
<circle cx="564.43" cy="157.26" r="1.35" fill="#d8281f"/>
<circle cx="571.17" cy="154.46" r="1.35" fill="#d8281f"/>
<circle cx="577.9" cy="152.7" r="1.35" fill="#d8281f"/>
<circle cx="594.73" cy="148.85" r="1.35" fill="#d8281f"/>
<circle cx="611.57" cy="147.79" r="1.35" fill="#d8281f"/>
<circle cx="628.4" cy="147.09" r="1.35" fill="#d8281f"/>
<circle cx="645.23" cy="146.39" r="1.35" fill="#d8281f"/>
<circle cx="665.43" cy="146.04" r="1.35" fill="#d8281f"/>
<polyline points="544.23,175.85 547.6,171.29 550.97,168.49 557.7,162.17 564.43,157.96 571.17,155.16 577.9,153.05 594.73,150.78 611.57,149.55 628.4,148.5 645.23,148.14 665.43,147.09" fill="none" stroke="#d8281f" stroke-width="0.5"/>
<path d="M544.23 175.15V176.55M543.43 175.15h1.6M543.43 176.55h1.6M547.6 170.59V171.99M546.8 170.59h1.6M546.8 171.99h1.6M550.97 167.78V169.19M550.17 167.78h1.6M550.17 169.19h1.6M557.7 161.47V162.87M556.9 161.47h1.6M556.9 162.87h1.6M564.43 157.26V158.67M563.63 157.26h1.6M563.63 158.67h1.6M571.17 154.46V155.86M570.37 154.46h1.6M570.37 155.86h1.6M577.9 152.35V153.76M577.1 152.35h1.6M577.1 153.76h1.6M594.73 150.07V151.48M593.93 150.07h1.6M593.93 151.48h1.6M611.57 148.85V150.25M610.77 148.85h1.6M610.77 150.25h1.6M628.4 147.79V149.2M627.6 147.79h1.6M627.6 149.2h1.6M645.23 147.44V148.85M644.43 147.44h1.6M644.43 148.85h1.6M665.43 146.39V147.79M664.63 146.39h1.6M664.63 147.79h1.6" stroke="#d8281f" stroke-width="0.4" stroke-opacity="0.75" fill="none"/>
<path d="M544.23 174.25L545.83 177.13L542.63 177.13Z" fill="#d8281f"/>
<path d="M547.6 169.69L549.2 172.57L546 172.57Z" fill="#d8281f"/>
<path d="M550.97 166.89L552.57 169.77L549.37 169.77Z" fill="#d8281f"/>
<path d="M557.7 160.57L559.3 163.45L556.1 163.45Z" fill="#d8281f"/>
<path d="M564.43 156.36L566.03 159.24L562.83 159.24Z" fill="#d8281f"/>
<path d="M571.17 153.56L572.77 156.44L569.57 156.44Z" fill="#d8281f"/>
<path d="M577.9 151.45L579.5 154.33L576.3 154.33Z" fill="#d8281f"/>
<path d="M594.73 149.18L596.33 152.06L593.13 152.06Z" fill="#d8281f"/>
<path d="M611.57 147.95L613.17 150.83L609.97 150.83Z" fill="#d8281f"/>
<path d="M628.4 146.9L630 149.78L626.8 149.78Z" fill="#d8281f"/>
<path d="M645.23 146.54L646.83 149.42L643.63 149.42Z" fill="#d8281f"/>
<path d="M665.43 145.49L667.03 148.37L663.83 148.37Z" fill="#d8281f"/>
<rect x="537.5" y="125.6" width="141.4" height="52.5" fill="none" stroke="#111" stroke-width="1.2"/>
<text x="533.7" y="180.7" class="tl" text-anchor="end">2.5</text>
<text x="533.7" y="163.2" class="tl" text-anchor="end">3.0</text>
<text x="533.7" y="145.7" class="tl" text-anchor="end">3.5</text>
<text x="533.7" y="128.2" class="tl" text-anchor="end">4.0</text>
<path d="M614.1 160.7H626.9" stroke="#d8281f" stroke-width="0.6"/>
<circle cx="620.9" cy="160.7" r="1.22" fill="#d8281f"/>
<text x="628.9" y="162.8" class="li2" fill="#d8281f" stroke="#d8281f">YX</text>
<path d="M614.1 167.4H626.9" stroke="#d8281f" stroke-width="0.6"/>
<path d="M620.9 165.96L622.34 168.55L619.46 168.55Z" fill="#d8281f"/>
<text x="628.9" y="169.5" class="li2" fill="#d8281f" stroke="#d8281f">ZX</text>
<path d="M638.6 158.9Q640.1 158.9 640.1 160.4V162.7Q640.1 164.2 641.6 164.2Q640.1 164.2 640.1 165.7V168Q640.1 169.5 638.6 169.5" stroke="#d8281f" stroke-width="1.1" fill="none"/>
<text x="642.5" y="166.8" class="lt" fill="#d8281f" stroke="#d8281f" textLength="34.2" lengthAdjust="spacingAndGlyphs">ENZ03 (dry)</text>
<path d="M40.31 244.4v-2.8M40.31 192.2v2.8M47.02 244.4v-1.5M47.02 192.2v1.5M53.73 244.4v-1.5M53.73 192.2v1.5M60.44 244.4v-1.5M60.44 192.2v1.5M67.15 244.4v-1.5M67.15 192.2v1.5M73.86 244.4v-2.8M73.86 192.2v2.8M80.57 244.4v-1.5M80.57 192.2v1.5M87.28 244.4v-1.5M87.28 192.2v1.5M93.99 244.4v-1.5M93.99 192.2v1.5M100.7 244.4v-1.5M100.7 192.2v1.5M107.4 244.4v-2.8M107.4 192.2v2.8M114.11 244.4v-1.5M114.11 192.2v1.5M120.82 244.4v-1.5M120.82 192.2v1.5M127.53 244.4v-1.5M127.53 192.2v1.5M134.24 244.4v-1.5M134.24 192.2v1.5M140.95 244.4v-2.8M140.95 192.2v2.8M147.66 244.4v-1.5M147.66 192.2v1.5M154.37 244.4v-1.5M154.37 192.2v1.5M161.08 244.4v-1.5M161.08 192.2v1.5M167.79 244.4v-1.5M167.79 192.2v1.5M174.5 244.4v-2.8M174.5 192.2v2.8M33.6 244.4h2.8M174.5 244.4h-2.8M33.6 240.92h1.5M174.5 240.92h-1.5M33.6 237.44h1.5M174.5 237.44h-1.5M33.6 233.96h1.5M174.5 233.96h-1.5M33.6 230.48h1.5M174.5 230.48h-1.5M33.6 227h2.8M174.5 227h-2.8M33.6 223.52h1.5M174.5 223.52h-1.5M33.6 220.04h1.5M174.5 220.04h-1.5M33.6 216.56h1.5M174.5 216.56h-1.5M33.6 213.08h1.5M174.5 213.08h-1.5M33.6 209.6h2.8M174.5 209.6h-2.8M33.6 206.12h1.5M174.5 206.12h-1.5M33.6 202.64h1.5M174.5 202.64h-1.5M33.6 199.16h1.5M174.5 199.16h-1.5M33.6 195.68h1.5M174.5 195.68h-1.5M33.6 192.2h2.8M174.5 192.2h-2.8" stroke="#111" stroke-width="0.8" fill="none"/>
<polyline points="40.31,231.62 43.66,229.54 47.02,226.75 53.73,223.97 60.44,221.53 67.15,219.44 73.86,218.75 90.63,217.01 107.4,215.62 124.18,215.27 140.95,214.92 151.02,214.57 161.08,214.22" fill="none" stroke="#d8281f" stroke-width="0.5"/>
<path d="M40.31 230.93V232.32M39.51 230.93h1.6M39.51 232.32h1.6M43.66 228.84V230.23M42.86 228.84h1.6M42.86 230.23h1.6M47.02 226.06V227.45M46.22 226.06h1.6M46.22 227.45h1.6M53.73 223.27V224.66M52.93 223.27h1.6M52.93 224.66h1.6M60.44 220.84V222.23M59.64 220.84h1.6M59.64 222.23h1.6M67.15 218.75V220.14M66.35 218.75h1.6M66.35 220.14h1.6M73.86 218.05V219.44M73.06 218.05h1.6M73.06 219.44h1.6M90.63 216.31V217.7M89.83 216.31h1.6M89.83 217.7h1.6M107.4 214.92V216.31M106.6 214.92h1.6M106.6 216.31h1.6M124.18 214.57V215.96M123.38 214.57h1.6M123.38 215.96h1.6M140.95 214.22V215.62M140.15 214.22h1.6M140.15 215.62h1.6M151.02 213.88V215.27M150.22 213.88h1.6M150.22 215.27h1.6M161.08 213.53V214.92M160.28 213.53h1.6M160.28 214.92h1.6" stroke="#d8281f" stroke-width="0.4" stroke-opacity="0.75" fill="none"/>
<circle cx="40.31" cy="231.62" r="1.35" fill="#d8281f"/>
<circle cx="43.66" cy="229.54" r="1.35" fill="#d8281f"/>
<circle cx="47.02" cy="226.75" r="1.35" fill="#d8281f"/>
<circle cx="53.73" cy="223.97" r="1.35" fill="#d8281f"/>
<circle cx="60.44" cy="221.53" r="1.35" fill="#d8281f"/>
<circle cx="67.15" cy="219.44" r="1.35" fill="#d8281f"/>
<circle cx="73.86" cy="218.75" r="1.35" fill="#d8281f"/>
<circle cx="90.63" cy="217.01" r="1.35" fill="#d8281f"/>
<circle cx="107.4" cy="215.62" r="1.35" fill="#d8281f"/>
<circle cx="124.18" cy="215.27" r="1.35" fill="#d8281f"/>
<circle cx="140.95" cy="214.92" r="1.35" fill="#d8281f"/>
<circle cx="151.02" cy="214.57" r="1.35" fill="#d8281f"/>
<circle cx="161.08" cy="214.22" r="1.35" fill="#d8281f"/>
<polyline points="40.31,232.67 43.66,230.58 47.02,227.8 53.73,224.66 60.44,222.23 67.15,220.14 73.86,219.1 90.63,217.36 107.4,216.31 124.18,215.62 140.95,214.92 151.02,214.57 161.08,214.57" fill="none" stroke="#d8281f" stroke-width="0.5"/>
<path d="M40.31 231.97V233.36M39.51 231.97h1.6M39.51 233.36h1.6M43.66 229.88V231.28M42.86 229.88h1.6M42.86 231.28h1.6M47.02 227.1V228.49M46.22 227.1h1.6M46.22 228.49h1.6M53.73 223.97V225.36M52.93 223.97h1.6M52.93 225.36h1.6M60.44 221.53V222.92M59.64 221.53h1.6M59.64 222.92h1.6M67.15 219.44V220.84M66.35 219.44h1.6M66.35 220.84h1.6M73.86 218.4V219.79M73.06 218.4h1.6M73.06 219.79h1.6M90.63 216.66V218.05M89.83 216.66h1.6M89.83 218.05h1.6M107.4 215.62V217.01M106.6 215.62h1.6M106.6 217.01h1.6M124.18 214.92V216.31M123.38 214.92h1.6M123.38 216.31h1.6M140.95 214.22V215.62M140.15 214.22h1.6M140.15 215.62h1.6M151.02 213.88V215.27M150.22 213.88h1.6M150.22 215.27h1.6M161.08 213.88V215.27M160.28 213.88h1.6M160.28 215.27h1.6" stroke="#d8281f" stroke-width="0.4" stroke-opacity="0.75" fill="none"/>
<path d="M40.31 231.07L41.91 233.95L38.71 233.95Z" fill="#d8281f"/>
<path d="M43.66 228.98L45.26 231.86L42.06 231.86Z" fill="#d8281f"/>
<path d="M47.02 226.2L48.62 229.08L45.42 229.08Z" fill="#d8281f"/>
<path d="M53.73 223.06L55.33 225.94L52.13 225.94Z" fill="#d8281f"/>
<path d="M60.44 220.63L62.04 223.51L58.84 223.51Z" fill="#d8281f"/>
<path d="M67.15 218.54L68.75 221.42L65.55 221.42Z" fill="#d8281f"/>
<path d="M73.86 217.5L75.46 220.38L72.26 220.38Z" fill="#d8281f"/>
<path d="M90.63 215.76L92.23 218.64L89.03 218.64Z" fill="#d8281f"/>
<path d="M107.4 214.71L109 217.59L105.8 217.59Z" fill="#d8281f"/>
<path d="M124.18 214.02L125.78 216.9L122.58 216.9Z" fill="#d8281f"/>
<path d="M140.95 213.32L142.55 216.2L139.35 216.2Z" fill="#d8281f"/>
<path d="M151.02 212.97L152.62 215.85L149.42 215.85Z" fill="#d8281f"/>
<path d="M161.08 212.97L162.68 215.85L159.48 215.85Z" fill="#d8281f"/>
<polyline points="40.31,225.01 43.66,222.58 47.02,221.53 53.73,219.44 60.44,218.05 67.15,217.01 73.86,216.31 90.63,215.27 107.4,214.57 124.18,213.53 140.95,213.18" fill="none" stroke="#2a44b4" stroke-width="0.5"/>
<circle cx="40.31" cy="225.01" r="1.35" fill="#2a44b4"/>
<circle cx="43.66" cy="222.58" r="1.35" fill="#2a44b4"/>
<circle cx="47.02" cy="221.53" r="1.35" fill="#2a44b4"/>
<circle cx="53.73" cy="219.44" r="1.35" fill="#2a44b4"/>
<circle cx="60.44" cy="218.05" r="1.35" fill="#2a44b4"/>
<circle cx="67.15" cy="217.01" r="1.35" fill="#2a44b4"/>
<circle cx="73.86" cy="216.31" r="1.35" fill="#2a44b4"/>
<circle cx="90.63" cy="215.27" r="1.35" fill="#2a44b4"/>
<circle cx="107.4" cy="214.57" r="1.35" fill="#2a44b4"/>
<circle cx="124.18" cy="213.53" r="1.35" fill="#2a44b4"/>
<circle cx="140.95" cy="213.18" r="1.35" fill="#2a44b4"/>
<rect x="33.6" y="192.2" width="140.9" height="52.2" fill="none" stroke="#111" stroke-width="1.2"/>
<text x="29.8" y="247" class="tl" text-anchor="end">2.5</text>
<text x="29.8" y="229.6" class="tl" text-anchor="end">3.0</text>
<text x="29.8" y="212.2" class="tl" text-anchor="end">3.5</text>
<text x="29.8" y="194.8" class="tl" text-anchor="end">4.0</text>
<path d="M86.9 226.2H99.1" stroke="#d8281f" stroke-width="0.6"/>
<circle cx="93.5" cy="226.2" r="1.22" fill="#d8281f"/>
<text x="101.7" y="228.3" class="li3" fill="#d8281f" stroke="#d8281f">ZY</text>
<path d="M86.9 232.5H99.1" stroke="#d8281f" stroke-width="0.6"/>
<path d="M93.5 231.06L94.94 233.65L92.06 233.65Z" fill="#d8281f"/>
<text x="101.7" y="234.6" class="li3" fill="#d8281f" stroke="#d8281f">XY</text>
<path d="M86.9 238.4H99.1" stroke="#2a44b4" stroke-width="0.6"/>
<circle cx="93.5" cy="238.4" r="1.22" fill="#2a44b4"/>
<text x="101.7" y="240.5" class="li3" fill="#2a44b4" stroke="#2a44b4">ZY</text>
<path d="M113.4 225Q114.9 225 114.9 226.5V228.1Q114.9 229.6 116.4 229.6Q114.9 229.6 114.9 231.1V232.7Q114.9 234.2 113.4 234.2" stroke="#d8281f" stroke-width="1.1" fill="none"/>
<text x="119.2" y="232.6" class="lt" fill="#d8281f" stroke="#d8281f" textLength="34.2" lengthAdjust="spacingAndGlyphs">AJG50 (dry)</text>
<text x="119.2" y="240.4" class="lt" fill="#2a44b4" stroke="#2a44b4" textLength="47.5" lengthAdjust="spacingAndGlyphs">AJG35 (saturated)</text>
<path d="M208.31 244.3v-2.8M208.31 191.8v2.8M215.02 244.3v-1.5M215.02 191.8v1.5M221.73 244.3v-1.5M221.73 191.8v1.5M228.44 244.3v-1.5M228.44 191.8v1.5M235.15 244.3v-1.5M235.15 191.8v1.5M241.86 244.3v-2.8M241.86 191.8v2.8M248.57 244.3v-1.5M248.57 191.8v1.5M255.28 244.3v-1.5M255.28 191.8v1.5M261.99 244.3v-1.5M261.99 191.8v1.5M268.7 244.3v-1.5M268.7 191.8v1.5M275.4 244.3v-2.8M275.4 191.8v2.8M282.11 244.3v-1.5M282.11 191.8v1.5M288.82 244.3v-1.5M288.82 191.8v1.5M295.53 244.3v-1.5M295.53 191.8v1.5M302.24 244.3v-1.5M302.24 191.8v1.5M308.95 244.3v-2.8M308.95 191.8v2.8M315.66 244.3v-1.5M315.66 191.8v1.5M322.37 244.3v-1.5M322.37 191.8v1.5M329.08 244.3v-1.5M329.08 191.8v1.5M335.79 244.3v-1.5M335.79 191.8v1.5M342.5 244.3v-2.8M342.5 191.8v2.8M201.6 244.3h2.8M342.5 244.3h-2.8M201.6 240.8h1.5M342.5 240.8h-1.5M201.6 237.3h1.5M342.5 237.3h-1.5M201.6 233.8h1.5M342.5 233.8h-1.5M201.6 230.3h1.5M342.5 230.3h-1.5M201.6 226.8h2.8M342.5 226.8h-2.8M201.6 223.3h1.5M342.5 223.3h-1.5M201.6 219.8h1.5M342.5 219.8h-1.5M201.6 216.3h1.5M342.5 216.3h-1.5M201.6 212.8h1.5M342.5 212.8h-1.5M201.6 209.3h2.8M342.5 209.3h-2.8M201.6 205.8h1.5M342.5 205.8h-1.5M201.6 202.3h1.5M342.5 202.3h-1.5M201.6 198.8h1.5M342.5 198.8h-1.5M201.6 195.3h1.5M342.5 195.3h-1.5M201.6 191.8h2.8M342.5 191.8h-2.8" stroke="#111" stroke-width="0.8" fill="none"/>
<polyline points="208.31,229.54 211.66,228.49 215.02,226.06 221.73,222.58 228.44,219.1 235.15,216.66 241.86,215.27 258.63,212.83 275.4,211.09 292.18,210.74 308.95,210.4 329.08,210.05" fill="none" stroke="#d8281f" stroke-width="0.5"/>
<circle cx="208.31" cy="229.54" r="1.35" fill="#d8281f"/>
<circle cx="211.66" cy="228.49" r="1.35" fill="#d8281f"/>
<circle cx="215.02" cy="226.06" r="1.35" fill="#d8281f"/>
<circle cx="221.73" cy="222.58" r="1.35" fill="#d8281f"/>
<circle cx="228.44" cy="219.1" r="1.35" fill="#d8281f"/>
<circle cx="235.15" cy="216.66" r="1.35" fill="#d8281f"/>
<circle cx="241.86" cy="215.27" r="1.35" fill="#d8281f"/>
<circle cx="258.63" cy="212.83" r="1.35" fill="#d8281f"/>
<circle cx="275.4" cy="211.09" r="1.35" fill="#d8281f"/>
<circle cx="292.18" cy="210.74" r="1.35" fill="#d8281f"/>
<circle cx="308.95" cy="210.4" r="1.35" fill="#d8281f"/>
<circle cx="329.08" cy="210.05" r="1.35" fill="#d8281f"/>
<polyline points="208.31,237.19 211.66,235.45 215.02,231.62 221.73,227.1 228.44,222.58 235.15,220.14 241.86,218.4 258.63,215.62 275.4,214.22 292.18,213.53 308.95,212.83 329.08,212.14" fill="none" stroke="#d8281f" stroke-width="0.5"/>
<path d="M208.31 235.59L209.91 238.47L206.71 238.47Z" fill="#d8281f"/>
<path d="M211.66 233.85L213.26 236.73L210.06 236.73Z" fill="#d8281f"/>
<path d="M215.02 230.02L216.62 232.9L213.42 232.9Z" fill="#d8281f"/>
<path d="M221.73 225.5L223.33 228.38L220.13 228.38Z" fill="#d8281f"/>
<path d="M228.44 220.98L230.04 223.86L226.84 223.86Z" fill="#d8281f"/>
<path d="M235.15 218.54L236.75 221.42L233.55 221.42Z" fill="#d8281f"/>
<path d="M241.86 216.8L243.46 219.68L240.26 219.68Z" fill="#d8281f"/>
<path d="M258.63 214.02L260.23 216.9L257.03 216.9Z" fill="#d8281f"/>
<path d="M275.4 212.62L277 215.5L273.8 215.5Z" fill="#d8281f"/>
<path d="M292.18 211.93L293.78 214.81L290.58 214.81Z" fill="#d8281f"/>
<path d="M308.95 211.23L310.55 214.11L307.35 214.11Z" fill="#d8281f"/>
<path d="M329.08 210.54L330.68 213.42L327.48 213.42Z" fill="#d8281f"/>
<polyline points="208.31,224.66 209.65,224.32 211.66,222.23 215.02,220.84 221.73,218.05 228.44,216.31 235.15,214.92 241.86,213.88 258.63,212.14 275.4,211.09 292.18,210.4 308.95,209.7" fill="none" stroke="#2a44b4" stroke-width="0.5"/>
<circle cx="208.31" cy="224.66" r="1.35" fill="#2a44b4"/>
<circle cx="209.65" cy="224.32" r="1.35" fill="#2a44b4"/>
<circle cx="211.66" cy="222.23" r="1.35" fill="#2a44b4"/>
<circle cx="215.02" cy="220.84" r="1.35" fill="#2a44b4"/>
<circle cx="221.73" cy="218.05" r="1.35" fill="#2a44b4"/>
<circle cx="228.44" cy="216.31" r="1.35" fill="#2a44b4"/>
<circle cx="235.15" cy="214.92" r="1.35" fill="#2a44b4"/>
<circle cx="241.86" cy="213.88" r="1.35" fill="#2a44b4"/>
<circle cx="258.63" cy="212.14" r="1.35" fill="#2a44b4"/>
<circle cx="275.4" cy="211.09" r="1.35" fill="#2a44b4"/>
<circle cx="292.18" cy="210.4" r="1.35" fill="#2a44b4"/>
<circle cx="308.95" cy="209.7" r="1.35" fill="#2a44b4"/>
<rect x="201.6" y="191.8" width="140.9" height="52.5" fill="none" stroke="#111" stroke-width="1.2"/>
<text x="197.8" y="246.9" class="tl" text-anchor="end">2.5</text>
<text x="197.8" y="229.4" class="tl" text-anchor="end">3.0</text>
<text x="197.8" y="211.9" class="tl" text-anchor="end">3.5</text>
<text x="197.8" y="194.4" class="tl" text-anchor="end">4.0</text>
<path d="M255 225.9H267.7" stroke="#d8281f" stroke-width="0.6"/>
<circle cx="261.8" cy="225.9" r="1.22" fill="#d8281f"/>
<text x="269.7" y="228" class="li3" fill="#d8281f" stroke="#d8281f">ZY</text>
<path d="M255 232.1H267.7" stroke="#d8281f" stroke-width="0.6"/>
<path d="M261.8 230.66L263.24 233.25L260.36 233.25Z" fill="#d8281f"/>
<text x="269.7" y="234.2" class="li3" fill="#d8281f" stroke="#d8281f">XY</text>
<path d="M255 237.5H267.7" stroke="#2a44b4" stroke-width="0.6"/>
<circle cx="261.8" cy="237.5" r="1.22" fill="#2a44b4"/>
<text x="269.7" y="239.6" class="li3" fill="#2a44b4" stroke="#2a44b4">ZY</text>
<path d="M281.4 224Q282.9 224 282.9 225.5V227.4Q282.9 228.9 284.4 228.9Q282.9 228.9 282.9 230.4V232.3Q282.9 233.8 281.4 233.8" stroke="#d8281f" stroke-width="1.1" fill="none"/>
<text x="286.1" y="231.2" class="lt" fill="#d8281f" stroke="#d8281f" textLength="35.8" lengthAdjust="spacingAndGlyphs">OSG13 (dry)</text>
<text x="286.1" y="239.4" class="lt" fill="#2a44b4" stroke="#2a44b4" textLength="51.4" lengthAdjust="spacingAndGlyphs">OSG18 (saturated)</text>
<path d="M375.89 245v-2.8M375.89 192.2v2.8M382.57 245v-1.5M382.57 192.2v1.5M389.26 245v-1.5M389.26 192.2v1.5M395.94 245v-1.5M395.94 192.2v1.5M402.63 245v-1.5M402.63 192.2v1.5M409.31 245v-2.8M409.31 192.2v2.8M416 245v-1.5M416 192.2v1.5M422.69 245v-1.5M422.69 192.2v1.5M429.37 245v-1.5M429.37 192.2v1.5M436.06 245v-1.5M436.06 192.2v1.5M442.74 245v-2.8M442.74 192.2v2.8M449.43 245v-1.5M449.43 192.2v1.5M456.11 245v-1.5M456.11 192.2v1.5M462.8 245v-1.5M462.8 192.2v1.5M469.49 245v-1.5M469.49 192.2v1.5M476.17 245v-2.8M476.17 192.2v2.8M482.86 245v-1.5M482.86 192.2v1.5M489.54 245v-1.5M489.54 192.2v1.5M496.23 245v-1.5M496.23 192.2v1.5M502.91 245v-1.5M502.91 192.2v1.5M509.6 245v-2.8M509.6 192.2v2.8M369.2 245h2.8M509.6 245h-2.8M369.2 241.48h1.5M509.6 241.48h-1.5M369.2 237.96h1.5M509.6 237.96h-1.5M369.2 234.44h1.5M509.6 234.44h-1.5M369.2 230.92h1.5M509.6 230.92h-1.5M369.2 227.4h2.8M509.6 227.4h-2.8M369.2 223.88h1.5M509.6 223.88h-1.5M369.2 220.36h1.5M509.6 220.36h-1.5M369.2 216.84h1.5M509.6 216.84h-1.5M369.2 213.32h1.5M509.6 213.32h-1.5M369.2 209.8h2.8M509.6 209.8h-2.8M369.2 206.28h1.5M509.6 206.28h-1.5M369.2 202.76h1.5M509.6 202.76h-1.5M369.2 199.24h1.5M509.6 199.24h-1.5M369.2 195.72h1.5M509.6 195.72h-1.5M369.2 192.2h2.8M509.6 192.2h-2.8" stroke="#111" stroke-width="0.8" fill="none"/>
<polyline points="375.89,242.41 379.23,238.58 382.57,235.45 389.26,229.88 395.94,225.71 402.63,223.27 409.31,220.84 426.03,217.7 442.74,216.31 459.46,215.62 476.17,214.92 496.23,214.22" fill="none" stroke="#d8281f" stroke-width="0.5"/>
<circle cx="375.89" cy="242.41" r="1.35" fill="#d8281f"/>
<circle cx="379.23" cy="238.58" r="1.35" fill="#d8281f"/>
<circle cx="382.57" cy="235.45" r="1.35" fill="#d8281f"/>
<circle cx="389.26" cy="229.88" r="1.35" fill="#d8281f"/>
<circle cx="395.94" cy="225.71" r="1.35" fill="#d8281f"/>
<circle cx="402.63" cy="223.27" r="1.35" fill="#d8281f"/>
<circle cx="409.31" cy="220.84" r="1.35" fill="#d8281f"/>
<circle cx="426.03" cy="217.7" r="1.35" fill="#d8281f"/>
<circle cx="442.74" cy="216.31" r="1.35" fill="#d8281f"/>
<circle cx="459.46" cy="215.62" r="1.35" fill="#d8281f"/>
<circle cx="476.17" cy="214.92" r="1.35" fill="#d8281f"/>
<circle cx="496.23" cy="214.22" r="1.35" fill="#d8281f"/>
<polyline points="375.89,243.11 379.23,239.28 382.57,236.15 389.26,230.58 395.94,226.4 402.63,223.97 409.31,221.18 426.03,218.05 442.74,216.66 459.46,215.96 476.17,215.27 496.23,214.57" fill="none" stroke="#d8281f" stroke-width="0.5"/>
<path d="M375.89 241.51L377.49 244.39L374.29 244.39Z" fill="#d8281f"/>
<path d="M379.23 237.68L380.83 240.56L377.63 240.56Z" fill="#d8281f"/>
<path d="M382.57 234.55L384.17 237.43L380.97 237.43Z" fill="#d8281f"/>
<path d="M389.26 228.98L390.86 231.86L387.66 231.86Z" fill="#d8281f"/>
<path d="M395.94 224.8L397.54 227.68L394.34 227.68Z" fill="#d8281f"/>
<path d="M402.63 222.37L404.23 225.25L401.03 225.25Z" fill="#d8281f"/>
<path d="M409.31 219.58L410.91 222.46L407.71 222.46Z" fill="#d8281f"/>
<path d="M426.03 216.45L427.63 219.33L424.43 219.33Z" fill="#d8281f"/>
<path d="M442.74 215.06L444.34 217.94L441.14 217.94Z" fill="#d8281f"/>
<path d="M459.46 214.36L461.06 217.24L457.86 217.24Z" fill="#d8281f"/>
<path d="M476.17 213.67L477.77 216.55L474.57 216.55Z" fill="#d8281f"/>
<path d="M496.23 212.97L497.83 215.85L494.63 215.85Z" fill="#d8281f"/>
<polyline points="375.89,233.02 379.23,229.88 382.57,228.14 389.26,225.01 395.94,223.27 402.63,221.53 409.31,220.14 426.03,218.4 442.74,217.01 459.46,216.31 476.17,215.96" fill="none" stroke="#2a44b4" stroke-width="0.5"/>
<circle cx="375.89" cy="233.02" r="1.35" fill="#2a44b4"/>
<circle cx="379.23" cy="229.88" r="1.35" fill="#2a44b4"/>
<circle cx="382.57" cy="228.14" r="1.35" fill="#2a44b4"/>
<circle cx="389.26" cy="225.01" r="1.35" fill="#2a44b4"/>
<circle cx="395.94" cy="223.27" r="1.35" fill="#2a44b4"/>
<circle cx="402.63" cy="221.53" r="1.35" fill="#2a44b4"/>
<circle cx="409.31" cy="220.14" r="1.35" fill="#2a44b4"/>
<circle cx="426.03" cy="218.4" r="1.35" fill="#2a44b4"/>
<circle cx="442.74" cy="217.01" r="1.35" fill="#2a44b4"/>
<circle cx="459.46" cy="216.31" r="1.35" fill="#2a44b4"/>
<circle cx="476.17" cy="215.96" r="1.35" fill="#2a44b4"/>
<rect x="369.2" y="192.2" width="140.4" height="52.8" fill="none" stroke="#111" stroke-width="1.2"/>
<text x="365.4" y="247.6" class="tl" text-anchor="end">2.5</text>
<text x="365.4" y="230" class="tl" text-anchor="end">3.0</text>
<text x="365.4" y="212.4" class="tl" text-anchor="end">3.5</text>
<text x="365.4" y="194.8" class="tl" text-anchor="end">4.0</text>
<path d="M427.2 226.2H439.7" stroke="#d8281f" stroke-width="0.6"/>
<circle cx="433.8" cy="226.2" r="1.22" fill="#d8281f"/>
<text x="441.7" y="228.3" class="li3" fill="#d8281f" stroke="#d8281f">ZY</text>
<path d="M427.2 232.5H439.7" stroke="#d8281f" stroke-width="0.6"/>
<path d="M433.8 231.06L435.24 233.65L432.36 233.65Z" fill="#d8281f"/>
<text x="441.7" y="234.6" class="li3" fill="#d8281f" stroke="#d8281f">XY</text>
<path d="M427.2 238.4H439.7" stroke="#2a44b4" stroke-width="0.6"/>
<circle cx="433.8" cy="238.4" r="1.22" fill="#2a44b4"/>
<text x="441.7" y="240.5" class="li3" fill="#2a44b4" stroke="#2a44b4">ZY</text>
<path d="M452.7 224.6Q454.2 224.6 454.2 226.1V228.05Q454.2 229.55 455.7 229.55Q454.2 229.55 454.2 231.05V233Q454.2 234.5 452.7 234.5" stroke="#d8281f" stroke-width="1.1" fill="none"/>
<text x="456.8" y="231.2" class="lt" fill="#d8281f" stroke="#d8281f" textLength="34.5" lengthAdjust="spacingAndGlyphs">ENZ03 (dry)</text>
<text x="456.8" y="239.7" class="lt" fill="#2a44b4" stroke="#2a44b4" textLength="51" lengthAdjust="spacingAndGlyphs">ENZ05 (saturated)</text>
<path d="M544.41 244.6v-2.8M544.41 192.1v2.8M551.12 244.6v-1.5M551.12 192.1v1.5M557.83 244.6v-1.5M557.83 192.1v1.5M564.54 244.6v-1.5M564.54 192.1v1.5M571.25 244.6v-1.5M571.25 192.1v1.5M577.96 244.6v-2.8M577.96 192.1v2.8M584.67 244.6v-1.5M584.67 192.1v1.5M591.38 244.6v-1.5M591.38 192.1v1.5M598.09 244.6v-1.5M598.09 192.1v1.5M604.8 244.6v-1.5M604.8 192.1v1.5M611.5 244.6v-2.8M611.5 192.1v2.8M618.21 244.6v-1.5M618.21 192.1v1.5M624.92 244.6v-1.5M624.92 192.1v1.5M631.63 244.6v-1.5M631.63 192.1v1.5M638.34 244.6v-1.5M638.34 192.1v1.5M645.05 244.6v-2.8M645.05 192.1v2.8M651.76 244.6v-1.5M651.76 192.1v1.5M658.47 244.6v-1.5M658.47 192.1v1.5M665.18 244.6v-1.5M665.18 192.1v1.5M671.89 244.6v-1.5M671.89 192.1v1.5M678.6 244.6v-2.8M678.6 192.1v2.8M537.7 244.6h2.8M678.6 244.6h-2.8M537.7 241.1h1.5M678.6 241.1h-1.5M537.7 237.6h1.5M678.6 237.6h-1.5M537.7 234.1h1.5M678.6 234.1h-1.5M537.7 230.6h1.5M678.6 230.6h-1.5M537.7 227.1h2.8M678.6 227.1h-2.8M537.7 223.6h1.5M678.6 223.6h-1.5M537.7 220.1h1.5M678.6 220.1h-1.5M537.7 216.6h1.5M678.6 216.6h-1.5M537.7 213.1h1.5M678.6 213.1h-1.5M537.7 209.6h2.8M678.6 209.6h-2.8M537.7 206.1h1.5M678.6 206.1h-1.5M537.7 202.6h1.5M678.6 202.6h-1.5M537.7 199.1h1.5M678.6 199.1h-1.5M537.7 195.6h1.5M678.6 195.6h-1.5M537.7 192.1h2.8M678.6 192.1h-2.8" stroke="#111" stroke-width="0.8" fill="none"/>
<polyline points="544.41,242.41 547.76,238.58 551.12,235.45 557.83,229.88 564.54,225.71 571.25,223.27 577.96,220.84 594.73,217.7 611.5,216.31 628.28,215.62 645.05,214.92 665.18,214.22" fill="none" stroke="#d8281f" stroke-width="0.5"/>
<circle cx="544.41" cy="242.41" r="1.35" fill="#d8281f"/>
<circle cx="547.76" cy="238.58" r="1.35" fill="#d8281f"/>
<circle cx="551.12" cy="235.45" r="1.35" fill="#d8281f"/>
<circle cx="557.83" cy="229.88" r="1.35" fill="#d8281f"/>
<circle cx="564.54" cy="225.71" r="1.35" fill="#d8281f"/>
<circle cx="571.25" cy="223.27" r="1.35" fill="#d8281f"/>
<circle cx="577.96" cy="220.84" r="1.35" fill="#d8281f"/>
<circle cx="594.73" cy="217.7" r="1.35" fill="#d8281f"/>
<circle cx="611.5" cy="216.31" r="1.35" fill="#d8281f"/>
<circle cx="628.28" cy="215.62" r="1.35" fill="#d8281f"/>
<circle cx="645.05" cy="214.92" r="1.35" fill="#d8281f"/>
<circle cx="665.18" cy="214.22" r="1.35" fill="#d8281f"/>
<polyline points="544.41,243.11 547.76,239.28 551.12,236.15 557.83,230.58 564.54,226.4 571.25,223.97 577.96,221.18 594.73,218.05 611.5,216.66 628.28,215.96 645.05,215.27 665.18,214.57" fill="none" stroke="#d8281f" stroke-width="0.5"/>
<path d="M544.41 241.51L546.01 244.39L542.81 244.39Z" fill="#d8281f"/>
<path d="M547.76 237.68L549.36 240.56L546.16 240.56Z" fill="#d8281f"/>
<path d="M551.12 234.55L552.72 237.43L549.52 237.43Z" fill="#d8281f"/>
<path d="M557.83 228.98L559.43 231.86L556.23 231.86Z" fill="#d8281f"/>
<path d="M564.54 224.8L566.14 227.68L562.94 227.68Z" fill="#d8281f"/>
<path d="M571.25 222.37L572.85 225.25L569.65 225.25Z" fill="#d8281f"/>
<path d="M577.96 219.58L579.56 222.46L576.36 222.46Z" fill="#d8281f"/>
<path d="M594.73 216.45L596.33 219.33L593.13 219.33Z" fill="#d8281f"/>
<path d="M611.5 215.06L613.1 217.94L609.9 217.94Z" fill="#d8281f"/>
<path d="M628.28 214.36L629.88 217.24L626.68 217.24Z" fill="#d8281f"/>
<path d="M645.05 213.67L646.65 216.55L643.45 216.55Z" fill="#d8281f"/>
<path d="M665.18 212.97L666.78 215.85L663.58 215.85Z" fill="#d8281f"/>
<polyline points="544.41,233.02 547.76,229.88 551.12,228.14 557.83,225.01 564.54,223.27 571.25,221.53 577.96,220.14 594.73,218.4 611.5,217.01 628.28,216.31 645.05,215.96" fill="none" stroke="#2a44b4" stroke-width="0.5"/>
<circle cx="544.41" cy="233.02" r="1.35" fill="#2a44b4"/>
<circle cx="547.76" cy="229.88" r="1.35" fill="#2a44b4"/>
<circle cx="551.12" cy="228.14" r="1.35" fill="#2a44b4"/>
<circle cx="557.83" cy="225.01" r="1.35" fill="#2a44b4"/>
<circle cx="564.54" cy="223.27" r="1.35" fill="#2a44b4"/>
<circle cx="571.25" cy="221.53" r="1.35" fill="#2a44b4"/>
<circle cx="577.96" cy="220.14" r="1.35" fill="#2a44b4"/>
<circle cx="594.73" cy="218.4" r="1.35" fill="#2a44b4"/>
<circle cx="611.5" cy="217.01" r="1.35" fill="#2a44b4"/>
<circle cx="628.28" cy="216.31" r="1.35" fill="#2a44b4"/>
<circle cx="645.05" cy="215.96" r="1.35" fill="#2a44b4"/>
<rect x="537.7" y="192.1" width="140.9" height="52.5" fill="none" stroke="#111" stroke-width="1.2"/>
<text x="533.9" y="247.2" class="tl" text-anchor="end">2.5</text>
<text x="533.9" y="229.7" class="tl" text-anchor="end">3.0</text>
<text x="533.9" y="212.2" class="tl" text-anchor="end">3.5</text>
<text x="533.9" y="194.7" class="tl" text-anchor="end">4.0</text>
<path d="M595.5 225.9H608.1" stroke="#d8281f" stroke-width="0.6"/>
<circle cx="602.5" cy="225.9" r="1.22" fill="#d8281f"/>
<text x="610.4" y="228" class="li3" fill="#d8281f" stroke="#d8281f">ZY</text>
<path d="M595.5 232.2H608.1" stroke="#d8281f" stroke-width="0.6"/>
<path d="M602.5 230.76L603.94 233.35L601.06 233.35Z" fill="#d8281f"/>
<text x="610.4" y="234.3" class="li3" fill="#d8281f" stroke="#d8281f">XY</text>
<path d="M595.5 237.7H608.1" stroke="#2a44b4" stroke-width="0.6"/>
<circle cx="602.5" cy="237.7" r="1.22" fill="#2a44b4"/>
<text x="610.4" y="239.8" class="li3" fill="#2a44b4" stroke="#2a44b4">ZY</text>
<path d="M621.4 224Q622.9 224 622.9 225.5V227.4Q622.9 228.9 624.4 228.9Q622.9 228.9 622.9 230.4V232.3Q622.9 233.8 621.4 233.8" stroke="#d8281f" stroke-width="1.1" fill="none"/>
<text x="625.5" y="230.8" class="lt" fill="#d8281f" stroke="#d8281f" textLength="33.8" lengthAdjust="spacingAndGlyphs">ENZ03 (dry)</text>
<text x="625.5" y="239" class="lt" fill="#2a44b4" stroke="#2a44b4" textLength="51.6" lengthAdjust="spacingAndGlyphs">ENZ05 (saturated)</text>
<path d="M40.81 311.5v-2.8M40.81 258.9v2.8M47.52 311.5v-1.5M47.52 258.9v1.5M54.23 311.5v-1.5M54.23 258.9v1.5M60.94 311.5v-1.5M60.94 258.9v1.5M67.65 311.5v-1.5M67.65 258.9v1.5M74.36 311.5v-2.8M74.36 258.9v2.8M81.07 311.5v-1.5M81.07 258.9v1.5M87.78 311.5v-1.5M87.78 258.9v1.5M94.49 311.5v-1.5M94.49 258.9v1.5M101.2 311.5v-1.5M101.2 258.9v1.5M107.9 311.5v-2.8M107.9 258.9v2.8M114.61 311.5v-1.5M114.61 258.9v1.5M121.32 311.5v-1.5M121.32 258.9v1.5M128.03 311.5v-1.5M128.03 258.9v1.5M134.74 311.5v-1.5M134.74 258.9v1.5M141.45 311.5v-2.8M141.45 258.9v2.8M148.16 311.5v-1.5M148.16 258.9v1.5M154.87 311.5v-1.5M154.87 258.9v1.5M161.58 311.5v-1.5M161.58 258.9v1.5M168.29 311.5v-1.5M168.29 258.9v1.5M175 311.5v-2.8M175 258.9v2.8M34.1 311.5h2.8M175 311.5h-2.8M34.1 307.99h1.5M175 307.99h-1.5M34.1 304.49h1.5M175 304.49h-1.5M34.1 300.98h1.5M175 300.98h-1.5M34.1 297.47h1.5M175 297.47h-1.5M34.1 293.97h2.8M175 293.97h-2.8M34.1 290.46h1.5M175 290.46h-1.5M34.1 286.95h1.5M175 286.95h-1.5M34.1 283.45h1.5M175 283.45h-1.5M34.1 279.94h1.5M175 279.94h-1.5M34.1 276.43h2.8M175 276.43h-2.8M34.1 272.93h1.5M175 272.93h-1.5M34.1 269.42h1.5M175 269.42h-1.5M34.1 265.91h1.5M175 265.91h-1.5M34.1 262.41h1.5M175 262.41h-1.5M34.1 258.9h2.8M175 258.9h-2.8" stroke="#111" stroke-width="0.8" fill="none"/>
<polyline points="40.81,293.28 44.16,291.55 47.52,288.42 54.23,284.95 60.94,282.17 67.65,280.43 74.36,279.04 91.13,277.65 107.9,276.61 124.68,275.92 141.45,275.22 151.52,275.22 161.58,274.88" fill="none" stroke="#d8281f" stroke-width="0.5"/>
<path d="M40.81 292.24V294.32M40.01 292.24h1.6M40.01 294.32h1.6M44.16 290.5V292.59M43.36 290.5h1.6M43.36 292.59h1.6M47.52 287.38V289.46M46.72 287.38h1.6M46.72 289.46h1.6M54.23 283.91V285.99M53.43 283.91h1.6M53.43 285.99h1.6M60.94 281.13V283.21M60.14 281.13h1.6M60.14 283.21h1.6M67.65 279.39V281.47M66.85 279.39h1.6M66.85 281.47h1.6M74.36 278V280.09M73.56 278h1.6M73.56 280.09h1.6M91.13 276.61V278.7M90.33 276.61h1.6M90.33 278.7h1.6M107.9 275.57V277.65M107.1 275.57h1.6M107.1 277.65h1.6M124.68 274.88V276.96M123.88 274.88h1.6M123.88 276.96h1.6M141.45 274.18V276.26M140.65 274.18h1.6M140.65 276.26h1.6M151.52 274.18V276.26M150.72 274.18h1.6M150.72 276.26h1.6M161.58 273.83V275.92M160.78 273.83h1.6M160.78 275.92h1.6" stroke="#d8281f" stroke-width="0.4" stroke-opacity="0.75" fill="none"/>
<circle cx="40.81" cy="293.28" r="1.35" fill="#d8281f"/>
<circle cx="44.16" cy="291.55" r="1.35" fill="#d8281f"/>
<circle cx="47.52" cy="288.42" r="1.35" fill="#d8281f"/>
<circle cx="54.23" cy="284.95" r="1.35" fill="#d8281f"/>
<circle cx="60.94" cy="282.17" r="1.35" fill="#d8281f"/>
<circle cx="67.65" cy="280.43" r="1.35" fill="#d8281f"/>
<circle cx="74.36" cy="279.04" r="1.35" fill="#d8281f"/>
<circle cx="91.13" cy="277.65" r="1.35" fill="#d8281f"/>
<circle cx="107.9" cy="276.61" r="1.35" fill="#d8281f"/>
<circle cx="124.68" cy="275.92" r="1.35" fill="#d8281f"/>
<circle cx="141.45" cy="275.22" r="1.35" fill="#d8281f"/>
<circle cx="151.52" cy="275.22" r="1.35" fill="#d8281f"/>
<circle cx="161.58" cy="274.88" r="1.35" fill="#d8281f"/>
<polyline points="40.81,293.63 44.16,291.89 47.52,289.12 54.23,285.64 60.94,283.21 67.65,281.82 74.36,280.78 91.13,278 107.9,276.96 124.68,276.26 141.45,275.57 151.52,275.22 161.58,274.88" fill="none" stroke="#d8281f" stroke-width="0.5"/>
<path d="M40.81 292.59V294.67M40.01 292.59h1.6M40.01 294.67h1.6M44.16 290.85V292.94M43.36 290.85h1.6M43.36 292.94h1.6M47.52 288.07V290.16M46.72 288.07h1.6M46.72 290.16h1.6M54.23 284.6V286.68M53.43 284.6h1.6M53.43 286.68h1.6M60.94 282.17V284.25M60.14 282.17h1.6M60.14 284.25h1.6M67.65 280.78V282.86M66.85 280.78h1.6M66.85 282.86h1.6M74.36 279.74V281.82M73.56 279.74h1.6M73.56 281.82h1.6M91.13 276.96V279.04M90.33 276.96h1.6M90.33 279.04h1.6M107.9 275.92V278M107.1 275.92h1.6M107.1 278h1.6M124.68 275.22V277.31M123.88 275.22h1.6M123.88 277.31h1.6M141.45 274.53V276.61M140.65 274.53h1.6M140.65 276.61h1.6M151.52 274.18V276.26M150.72 274.18h1.6M150.72 276.26h1.6M161.58 273.83V275.92M160.78 273.83h1.6M160.78 275.92h1.6" stroke="#d8281f" stroke-width="0.4" stroke-opacity="0.75" fill="none"/>
<path d="M40.81 292.03L42.41 294.91L39.21 294.91Z" fill="#d8281f"/>
<path d="M44.16 290.29L45.76 293.17L42.56 293.17Z" fill="#d8281f"/>
<path d="M47.52 287.52L49.12 290.4L45.92 290.4Z" fill="#d8281f"/>
<path d="M54.23 284.04L55.83 286.92L52.63 286.92Z" fill="#d8281f"/>
<path d="M60.94 281.61L62.54 284.49L59.34 284.49Z" fill="#d8281f"/>
<path d="M67.65 280.22L69.25 283.1L66.05 283.1Z" fill="#d8281f"/>
<path d="M74.36 279.18L75.96 282.06L72.76 282.06Z" fill="#d8281f"/>
<path d="M91.13 276.4L92.73 279.28L89.53 279.28Z" fill="#d8281f"/>
<path d="M107.9 275.36L109.5 278.24L106.3 278.24Z" fill="#d8281f"/>
<path d="M124.68 274.66L126.28 277.54L123.08 277.54Z" fill="#d8281f"/>
<path d="M141.45 273.97L143.05 276.85L139.85 276.85Z" fill="#d8281f"/>
<path d="M151.52 273.62L153.12 276.5L149.92 276.5Z" fill="#d8281f"/>
<path d="M161.58 273.28L163.18 276.16L159.98 276.16Z" fill="#d8281f"/>
<rect x="34.1" y="258.9" width="140.9" height="52.6" fill="none" stroke="#111" stroke-width="1.2"/>
<text x="30.3" y="314.1" class="tl" text-anchor="end">2.5</text>
<text x="30.3" y="296.57" class="tl" text-anchor="end">3.0</text>
<text x="30.3" y="279.03" class="tl" text-anchor="end">3.5</text>
<text x="30.3" y="261.5" class="tl" text-anchor="end">4.0</text>
<text x="40.81" y="319.9" class="tl" text-anchor="middle">0</text>
<text x="74.36" y="319.9" class="tl" text-anchor="middle">50</text>
<text x="107.9" y="319.9" class="tl" text-anchor="middle">100</text>
<text x="141.45" y="319.9" class="tl" text-anchor="middle">150</text>
<text x="175" y="319.9" class="tl" text-anchor="middle">200</text>
<path d="M87.6 295.3H100.4" stroke="#d8281f" stroke-width="0.6"/>
<circle cx="94.6" cy="295.3" r="1.22" fill="#d8281f"/>
<text x="102.1" y="297.4" class="li3" fill="#d8281f" stroke="#d8281f">XZ</text>
<path d="M87.6 301H100.4" stroke="#d8281f" stroke-width="0.6"/>
<path d="M94.6 299.56L96.04 302.15L93.16 302.15Z" fill="#d8281f"/>
<text x="102.1" y="303.1" class="li3" fill="#d8281f" stroke="#d8281f">YZ</text>
<path d="M113.9 293.6Q115.4 293.6 115.4 295.1V297.2Q115.4 298.7 116.9 298.7Q115.4 298.7 115.4 300.2V302.3Q115.4 303.8 113.9 303.8" stroke="#d8281f" stroke-width="1.1" fill="none"/>
<text x="119.5" y="301.2" class="lt" fill="#d8281f" stroke="#d8281f" textLength="34.2" lengthAdjust="spacingAndGlyphs">AJG50 (dry)</text>
<text x="104.55" y="330" class="ax" text-anchor="middle">Pc (MPa)</text>
<path d="M208.43 311.8v-2.8M208.43 259.6v2.8M215.17 311.8v-1.5M215.17 259.6v1.5M221.9 311.8v-1.5M221.9 259.6v1.5M228.63 311.8v-1.5M228.63 259.6v1.5M235.37 311.8v-1.5M235.37 259.6v1.5M242.1 311.8v-2.8M242.1 259.6v2.8M248.83 311.8v-1.5M248.83 259.6v1.5M255.57 311.8v-1.5M255.57 259.6v1.5M262.3 311.8v-1.5M262.3 259.6v1.5M269.03 311.8v-1.5M269.03 259.6v1.5M275.77 311.8v-2.8M275.77 259.6v2.8M282.5 311.8v-1.5M282.5 259.6v1.5M289.23 311.8v-1.5M289.23 259.6v1.5M295.97 311.8v-1.5M295.97 259.6v1.5M302.7 311.8v-1.5M302.7 259.6v1.5M309.43 311.8v-2.8M309.43 259.6v2.8M316.17 311.8v-1.5M316.17 259.6v1.5M322.9 311.8v-1.5M322.9 259.6v1.5M329.63 311.8v-1.5M329.63 259.6v1.5M336.37 311.8v-1.5M336.37 259.6v1.5M343.1 311.8v-2.8M343.1 259.6v2.8M201.7 311.8h2.8M343.1 311.8h-2.8M201.7 308.32h1.5M343.1 308.32h-1.5M201.7 304.84h1.5M343.1 304.84h-1.5M201.7 301.36h1.5M343.1 301.36h-1.5M201.7 297.88h1.5M343.1 297.88h-1.5M201.7 294.4h2.8M343.1 294.4h-2.8M201.7 290.92h1.5M343.1 290.92h-1.5M201.7 287.44h1.5M343.1 287.44h-1.5M201.7 283.96h1.5M343.1 283.96h-1.5M201.7 280.48h1.5M343.1 280.48h-1.5M201.7 277h2.8M343.1 277h-2.8M201.7 273.52h1.5M343.1 273.52h-1.5M201.7 270.04h1.5M343.1 270.04h-1.5M201.7 266.56h1.5M343.1 266.56h-1.5M201.7 263.08h1.5M343.1 263.08h-1.5M201.7 259.6h2.8M343.1 259.6h-2.8" stroke="#111" stroke-width="0.8" fill="none"/>
<polyline points="208.43,301.27 211.8,299.53 215.17,296.06 221.9,290.5 228.63,287.03 235.37,284.95 242.1,282.52 258.93,279.74 275.77,278.7 292.6,278 309.43,277.65 329.63,277.31" fill="none" stroke="#d8281f" stroke-width="0.5"/>
<path d="M242.1 275.57V289.46M241.3 275.57h1.6M241.3 289.46h1.6M258.93 272.79V286.68M258.13 272.79h1.6M258.13 286.68h1.6M275.77 271.75V285.64M274.97 271.75h1.6M274.97 285.64h1.6M292.6 271.06V284.95M291.8 271.06h1.6M291.8 284.95h1.6M309.43 270.71V284.6M308.63 270.71h1.6M308.63 284.6h1.6M329.63 270.36V284.25M328.83 270.36h1.6M328.83 284.25h1.6" stroke="#d8281f" stroke-width="0.4" stroke-opacity="0.75" fill="none"/>
<circle cx="208.43" cy="301.27" r="1.35" fill="#d8281f"/>
<circle cx="211.8" cy="299.53" r="1.35" fill="#d8281f"/>
<circle cx="215.17" cy="296.06" r="1.35" fill="#d8281f"/>
<circle cx="221.9" cy="290.5" r="1.35" fill="#d8281f"/>
<circle cx="228.63" cy="287.03" r="1.35" fill="#d8281f"/>
<circle cx="235.37" cy="284.95" r="1.35" fill="#d8281f"/>
<circle cx="242.1" cy="282.52" r="1.35" fill="#d8281f"/>
<circle cx="258.93" cy="279.74" r="1.35" fill="#d8281f"/>
<circle cx="275.77" cy="278.7" r="1.35" fill="#d8281f"/>
<circle cx="292.6" cy="278" r="1.35" fill="#d8281f"/>
<circle cx="309.43" cy="277.65" r="1.35" fill="#d8281f"/>
<circle cx="329.63" cy="277.31" r="1.35" fill="#d8281f"/>
<polyline points="208.43,300.92 211.8,299.19 215.17,295.71 221.9,290.16 228.63,286.68 235.37,284.25 242.1,282.17 258.93,279.39 275.77,278 292.6,277.31 309.43,276.96 329.63,276.61" fill="none" stroke="#d8281f" stroke-width="0.5"/>
<path d="M208.43 299.32L210.03 302.2L206.83 302.2Z" fill="#d8281f"/>
<path d="M211.8 297.59L213.4 300.47L210.2 300.47Z" fill="#d8281f"/>
<path d="M215.17 294.11L216.77 296.99L213.57 296.99Z" fill="#d8281f"/>
<path d="M221.9 288.56L223.5 291.44L220.3 291.44Z" fill="#d8281f"/>
<path d="M228.63 285.08L230.23 287.96L227.03 287.96Z" fill="#d8281f"/>
<path d="M235.37 282.65L236.97 285.53L233.77 285.53Z" fill="#d8281f"/>
<path d="M242.1 280.57L243.7 283.45L240.5 283.45Z" fill="#d8281f"/>
<path d="M258.93 277.79L260.53 280.67L257.33 280.67Z" fill="#d8281f"/>
<path d="M275.77 276.4L277.37 279.28L274.17 279.28Z" fill="#d8281f"/>
<path d="M292.6 275.71L294.2 278.59L291 278.59Z" fill="#d8281f"/>
<path d="M309.43 275.36L311.03 278.24L307.83 278.24Z" fill="#d8281f"/>
<path d="M329.63 275.01L331.23 277.89L328.03 277.89Z" fill="#d8281f"/>
<rect x="201.7" y="259.6" width="141.4" height="52.2" fill="none" stroke="#111" stroke-width="1.2"/>
<text x="197.9" y="314.4" class="tl" text-anchor="end">2.5</text>
<text x="197.9" y="297" class="tl" text-anchor="end">3.0</text>
<text x="197.9" y="279.6" class="tl" text-anchor="end">3.5</text>
<text x="197.9" y="262.2" class="tl" text-anchor="end">4.0</text>
<text x="208.43" y="319.9" class="tl" text-anchor="middle">0</text>
<text x="242.1" y="319.9" class="tl" text-anchor="middle">50</text>
<text x="275.77" y="319.9" class="tl" text-anchor="middle">100</text>
<text x="309.43" y="319.9" class="tl" text-anchor="middle">150</text>
<text x="343.1" y="319.9" class="tl" text-anchor="middle">200</text>
<path d="M255.9 296.5H268.4" stroke="#d8281f" stroke-width="0.6"/>
<circle cx="262.7" cy="296.5" r="1.22" fill="#d8281f"/>
<text x="270.8" y="298.6" class="li3" fill="#d8281f" stroke="#d8281f">XZ</text>
<path d="M255.9 303.1H268.4" stroke="#d8281f" stroke-width="0.6"/>
<path d="M262.7 301.66L264.14 304.25L261.26 304.25Z" fill="#d8281f"/>
<text x="270.8" y="305.2" class="li3" fill="#d8281f" stroke="#d8281f">YZ</text>
<path d="M281.4 293.9Q282.9 293.9 282.9 295.4V297.65Q282.9 299.15 284.4 299.15Q282.9 299.15 282.9 300.65V302.9Q282.9 304.4 281.4 304.4" stroke="#d8281f" stroke-width="1.1" fill="none"/>
<text x="287.1" y="301.5" class="lt" fill="#d8281f" stroke="#d8281f" textLength="35.7" lengthAdjust="spacingAndGlyphs">OSG13 (dry)</text>
<text x="272.4" y="329.4" class="ax" text-anchor="middle">Pc (MPa)</text>
<path d="M375.7 311.3v-2.8M375.7 258.4v2.8M382.4 311.3v-1.5M382.4 258.4v1.5M389.1 311.3v-1.5M389.1 258.4v1.5M395.8 311.3v-1.5M395.8 258.4v1.5M402.5 311.3v-1.5M402.5 258.4v1.5M409.2 311.3v-2.8M409.2 258.4v2.8M415.9 311.3v-1.5M415.9 258.4v1.5M422.6 311.3v-1.5M422.6 258.4v1.5M429.3 311.3v-1.5M429.3 258.4v1.5M436 311.3v-1.5M436 258.4v1.5M442.7 311.3v-2.8M442.7 258.4v2.8M449.4 311.3v-1.5M449.4 258.4v1.5M456.1 311.3v-1.5M456.1 258.4v1.5M462.8 311.3v-1.5M462.8 258.4v1.5M469.5 311.3v-1.5M469.5 258.4v1.5M476.2 311.3v-2.8M476.2 258.4v2.8M482.9 311.3v-1.5M482.9 258.4v1.5M489.6 311.3v-1.5M489.6 258.4v1.5M496.3 311.3v-1.5M496.3 258.4v1.5M503 311.3v-1.5M503 258.4v1.5M509.7 311.3v-2.8M509.7 258.4v2.8M369 311.3h2.8M509.7 311.3h-2.8M369 307.77h1.5M509.7 307.77h-1.5M369 304.25h1.5M509.7 304.25h-1.5M369 300.72h1.5M509.7 300.72h-1.5M369 297.19h1.5M509.7 297.19h-1.5M369 293.67h2.8M509.7 293.67h-2.8M369 290.14h1.5M509.7 290.14h-1.5M369 286.61h1.5M509.7 286.61h-1.5M369 283.09h1.5M509.7 283.09h-1.5M369 279.56h1.5M509.7 279.56h-1.5M369 276.03h2.8M509.7 276.03h-2.8M369 272.51h1.5M509.7 272.51h-1.5M369 268.98h1.5M509.7 268.98h-1.5M369 265.45h1.5M509.7 265.45h-1.5M369 261.93h1.5M509.7 261.93h-1.5M369 258.4h2.8M509.7 258.4h-2.8" stroke="#111" stroke-width="0.8" fill="none"/>
<polyline points="375.7,307.87 379.05,303.7 382.4,299.19 389.1,292.94 395.8,288.77 402.5,285.64 409.2,283.56 425.95,280.43 442.7,278.35 459.45,277.31 476.2,276.96 496.3,276.61" fill="none" stroke="#d8281f" stroke-width="0.5"/>
<path d="M375.7 306.83V308.91M374.9 306.83h1.6M374.9 308.91h1.6M379.05 302.66V304.74M378.25 302.66h1.6M378.25 304.74h1.6M382.4 298.14V300.23M381.6 298.14h1.6M381.6 300.23h1.6M389.1 291.89V293.98M388.3 291.89h1.6M388.3 293.98h1.6M395.8 287.73V289.81M395 287.73h1.6M395 289.81h1.6M402.5 284.6V286.68M401.7 284.6h1.6M401.7 286.68h1.6M409.2 282.52V284.6M408.4 282.52h1.6M408.4 284.6h1.6M425.95 279.39V281.47M425.15 279.39h1.6M425.15 281.47h1.6M442.7 277.31V279.39M441.9 277.31h1.6M441.9 279.39h1.6M459.45 276.26V278.35M458.65 276.26h1.6M458.65 278.35h1.6M476.2 275.92V278M475.4 275.92h1.6M475.4 278h1.6M496.3 275.57V277.65M495.5 275.57h1.6M495.5 277.65h1.6" stroke="#d8281f" stroke-width="0.4" stroke-opacity="0.75" fill="none"/>
<circle cx="375.7" cy="307.87" r="1.35" fill="#d8281f"/>
<circle cx="379.05" cy="303.7" r="1.35" fill="#d8281f"/>
<circle cx="382.4" cy="299.19" r="1.35" fill="#d8281f"/>
<circle cx="389.1" cy="292.94" r="1.35" fill="#d8281f"/>
<circle cx="395.8" cy="288.77" r="1.35" fill="#d8281f"/>
<circle cx="402.5" cy="285.64" r="1.35" fill="#d8281f"/>
<circle cx="409.2" cy="283.56" r="1.35" fill="#d8281f"/>
<circle cx="425.95" cy="280.43" r="1.35" fill="#d8281f"/>
<circle cx="442.7" cy="278.35" r="1.35" fill="#d8281f"/>
<circle cx="459.45" cy="277.31" r="1.35" fill="#d8281f"/>
<circle cx="476.2" cy="276.96" r="1.35" fill="#d8281f"/>
<circle cx="496.3" cy="276.61" r="1.35" fill="#d8281f"/>
<polyline points="375.7,309.26 379.05,305.44 382.4,301.27 389.1,294.67 395.8,290.5 402.5,287.73 409.2,284.95 425.95,282.17 442.7,280.78 459.45,279.74 476.2,279.39 496.3,279.04" fill="none" stroke="#d8281f" stroke-width="0.5"/>
<path d="M375.7 308.22V310.3M374.9 308.22h1.6M374.9 310.3h1.6M379.05 304.4V306.48M378.25 304.4h1.6M378.25 306.48h1.6M382.4 300.23V302.31M381.6 300.23h1.6M381.6 302.31h1.6M389.1 293.63V295.71M388.3 293.63h1.6M388.3 295.71h1.6M395.8 289.46V291.55M395 289.46h1.6M395 291.55h1.6M402.5 286.68V288.77M401.7 286.68h1.6M401.7 288.77h1.6M409.2 283.91V285.99M408.4 283.91h1.6M408.4 285.99h1.6M425.95 281.13V283.21M425.15 281.13h1.6M425.15 283.21h1.6M442.7 279.74V281.82M441.9 279.74h1.6M441.9 281.82h1.6M459.45 278.7V280.78M458.65 278.7h1.6M458.65 280.78h1.6M476.2 278.35V280.43M475.4 278.35h1.6M475.4 280.43h1.6M496.3 278V280.09M495.5 278h1.6M495.5 280.09h1.6" stroke="#d8281f" stroke-width="0.4" stroke-opacity="0.75" fill="none"/>
<path d="M375.7 307.66L377.3 310.54L374.1 310.54Z" fill="#d8281f"/>
<path d="M379.05 303.84L380.65 306.72L377.45 306.72Z" fill="#d8281f"/>
<path d="M382.4 299.67L384 302.55L380.8 302.55Z" fill="#d8281f"/>
<path d="M389.1 293.07L390.7 295.95L387.5 295.95Z" fill="#d8281f"/>
<path d="M395.8 288.9L397.4 291.78L394.2 291.78Z" fill="#d8281f"/>
<path d="M402.5 286.13L404.1 289.01L400.9 289.01Z" fill="#d8281f"/>
<path d="M409.2 283.35L410.8 286.23L407.6 286.23Z" fill="#d8281f"/>
<path d="M425.95 280.57L427.55 283.45L424.35 283.45Z" fill="#d8281f"/>
<path d="M442.7 279.18L444.3 282.06L441.1 282.06Z" fill="#d8281f"/>
<path d="M459.45 278.14L461.05 281.02L457.85 281.02Z" fill="#d8281f"/>
<path d="M476.2 277.79L477.8 280.67L474.6 280.67Z" fill="#d8281f"/>
<path d="M496.3 277.44L497.9 280.32L494.7 280.32Z" fill="#d8281f"/>
<rect x="369" y="258.4" width="140.7" height="52.9" fill="none" stroke="#111" stroke-width="1.2"/>
<text x="365.2" y="313.9" class="tl" text-anchor="end">2.5</text>
<text x="365.2" y="296.27" class="tl" text-anchor="end">3.0</text>
<text x="365.2" y="278.63" class="tl" text-anchor="end">3.5</text>
<text x="365.2" y="261" class="tl" text-anchor="end">4.0</text>
<text x="375.7" y="319.6" class="tl" text-anchor="middle">0</text>
<text x="409.2" y="319.6" class="tl" text-anchor="middle">50</text>
<text x="442.7" y="319.6" class="tl" text-anchor="middle">100</text>
<text x="476.2" y="319.6" class="tl" text-anchor="middle">150</text>
<text x="509.7" y="319.6" class="tl" text-anchor="middle">200</text>
<path d="M441.7 295.2H454.8" stroke="#d8281f" stroke-width="0.6"/>
<circle cx="448.9" cy="295.2" r="1.22" fill="#d8281f"/>
<text x="456.8" y="297.3" class="li3" fill="#d8281f" stroke="#d8281f">XZ</text>
<path d="M441.7 301.1H454.8" stroke="#d8281f" stroke-width="0.6"/>
<path d="M448.9 299.66L450.34 302.25L447.46 302.25Z" fill="#d8281f"/>
<text x="456.8" y="303.2" class="li3" fill="#d8281f" stroke="#d8281f">YZ</text>
<path d="M467.8 293Q469.3 293 469.3 294.5V296.35Q469.3 297.85 470.8 297.85Q469.3 297.85 469.3 299.35V301.2Q469.3 302.7 467.8 302.7" stroke="#d8281f" stroke-width="1.1" fill="none"/>
<text x="473.2" y="299.8" class="lt" fill="#d8281f" stroke="#d8281f" textLength="34.1" lengthAdjust="spacingAndGlyphs">ENZ03 (dry)</text>
<text x="439.35" y="329.9" class="ax" text-anchor="middle">Pc (MPa)</text>
<path d="M544.43 310.9v-2.8M544.43 259.1v2.8M551.16 310.9v-1.5M551.16 259.1v1.5M557.89 310.9v-1.5M557.89 259.1v1.5M564.61 310.9v-1.5M564.61 259.1v1.5M571.34 310.9v-1.5M571.34 259.1v1.5M578.07 310.9v-2.8M578.07 259.1v2.8M584.8 310.9v-1.5M584.8 259.1v1.5M591.53 310.9v-1.5M591.53 259.1v1.5M598.26 310.9v-1.5M598.26 259.1v1.5M604.99 310.9v-1.5M604.99 259.1v1.5M611.71 310.9v-2.8M611.71 259.1v2.8M618.44 310.9v-1.5M618.44 259.1v1.5M625.17 310.9v-1.5M625.17 259.1v1.5M631.9 310.9v-1.5M631.9 259.1v1.5M638.63 310.9v-1.5M638.63 259.1v1.5M645.36 310.9v-2.8M645.36 259.1v2.8M652.09 310.9v-1.5M652.09 259.1v1.5M658.81 310.9v-1.5M658.81 259.1v1.5M665.54 310.9v-1.5M665.54 259.1v1.5M672.27 310.9v-1.5M672.27 259.1v1.5M679 310.9v-2.8M679 259.1v2.8M537.7 310.9h2.8M679 310.9h-2.8M537.7 307.45h1.5M679 307.45h-1.5M537.7 303.99h1.5M679 303.99h-1.5M537.7 300.54h1.5M679 300.54h-1.5M537.7 297.09h1.5M679 297.09h-1.5M537.7 293.63h2.8M679 293.63h-2.8M537.7 290.18h1.5M679 290.18h-1.5M537.7 286.73h1.5M679 286.73h-1.5M537.7 283.27h1.5M679 283.27h-1.5M537.7 279.82h1.5M679 279.82h-1.5M537.7 276.37h2.8M679 276.37h-2.8M537.7 272.91h1.5M679 272.91h-1.5M537.7 269.46h1.5M679 269.46h-1.5M537.7 266.01h1.5M679 266.01h-1.5M537.7 262.55h1.5M679 262.55h-1.5M537.7 259.1h2.8M679 259.1h-2.8" stroke="#111" stroke-width="0.8" fill="none"/>
<polyline points="544.43,307.87 547.79,303.7 551.16,299.19 557.89,292.94 564.61,288.77 571.34,285.64 578.07,283.56 594.89,280.43 611.71,278.35 628.54,277.31 645.36,276.96 665.54,276.61" fill="none" stroke="#d8281f" stroke-width="0.5"/>
<path d="M544.43 306.83V308.91M543.63 306.83h1.6M543.63 308.91h1.6M547.79 302.66V304.74M546.99 302.66h1.6M546.99 304.74h1.6M551.16 298.14V300.23M550.36 298.14h1.6M550.36 300.23h1.6M557.89 291.89V293.98M557.09 291.89h1.6M557.09 293.98h1.6M564.61 287.73V289.81M563.81 287.73h1.6M563.81 289.81h1.6M571.34 284.6V286.68M570.54 284.6h1.6M570.54 286.68h1.6M578.07 282.52V284.6M577.27 282.52h1.6M577.27 284.6h1.6M594.89 279.39V281.47M594.09 279.39h1.6M594.09 281.47h1.6M611.71 277.31V279.39M610.91 277.31h1.6M610.91 279.39h1.6M628.54 276.26V278.35M627.74 276.26h1.6M627.74 278.35h1.6M645.36 275.92V278M644.56 275.92h1.6M644.56 278h1.6M665.54 275.57V277.65M664.74 275.57h1.6M664.74 277.65h1.6" stroke="#d8281f" stroke-width="0.4" stroke-opacity="0.75" fill="none"/>
<circle cx="544.43" cy="307.87" r="1.35" fill="#d8281f"/>
<circle cx="547.79" cy="303.7" r="1.35" fill="#d8281f"/>
<circle cx="551.16" cy="299.19" r="1.35" fill="#d8281f"/>
<circle cx="557.89" cy="292.94" r="1.35" fill="#d8281f"/>
<circle cx="564.61" cy="288.77" r="1.35" fill="#d8281f"/>
<circle cx="571.34" cy="285.64" r="1.35" fill="#d8281f"/>
<circle cx="578.07" cy="283.56" r="1.35" fill="#d8281f"/>
<circle cx="594.89" cy="280.43" r="1.35" fill="#d8281f"/>
<circle cx="611.71" cy="278.35" r="1.35" fill="#d8281f"/>
<circle cx="628.54" cy="277.31" r="1.35" fill="#d8281f"/>
<circle cx="645.36" cy="276.96" r="1.35" fill="#d8281f"/>
<circle cx="665.54" cy="276.61" r="1.35" fill="#d8281f"/>
<polyline points="544.43,309.26 547.79,305.44 551.16,301.27 557.89,294.67 564.61,290.5 571.34,287.73 578.07,284.95 594.89,282.17 611.71,280.78 628.54,279.74 645.36,279.39 665.54,279.04" fill="none" stroke="#d8281f" stroke-width="0.5"/>
<path d="M544.43 308.22V310.3M543.63 308.22h1.6M543.63 310.3h1.6M547.79 304.4V306.48M546.99 304.4h1.6M546.99 306.48h1.6M551.16 300.23V302.31M550.36 300.23h1.6M550.36 302.31h1.6M557.89 293.63V295.71M557.09 293.63h1.6M557.09 295.71h1.6M564.61 289.46V291.55M563.81 289.46h1.6M563.81 291.55h1.6M571.34 286.68V288.77M570.54 286.68h1.6M570.54 288.77h1.6M578.07 283.91V285.99M577.27 283.91h1.6M577.27 285.99h1.6M594.89 281.13V283.21M594.09 281.13h1.6M594.09 283.21h1.6M611.71 279.74V281.82M610.91 279.74h1.6M610.91 281.82h1.6M628.54 278.7V280.78M627.74 278.7h1.6M627.74 280.78h1.6M645.36 278.35V280.43M644.56 278.35h1.6M644.56 280.43h1.6M665.54 278V280.09M664.74 278h1.6M664.74 280.09h1.6" stroke="#d8281f" stroke-width="0.4" stroke-opacity="0.75" fill="none"/>
<path d="M544.43 307.66L546.03 310.54L542.83 310.54Z" fill="#d8281f"/>
<path d="M547.79 303.84L549.39 306.72L546.19 306.72Z" fill="#d8281f"/>
<path d="M551.16 299.67L552.76 302.55L549.56 302.55Z" fill="#d8281f"/>
<path d="M557.89 293.07L559.49 295.95L556.29 295.95Z" fill="#d8281f"/>
<path d="M564.61 288.9L566.21 291.78L563.01 291.78Z" fill="#d8281f"/>
<path d="M571.34 286.13L572.94 289.01L569.74 289.01Z" fill="#d8281f"/>
<path d="M578.07 283.35L579.67 286.23L576.47 286.23Z" fill="#d8281f"/>
<path d="M594.89 280.57L596.49 283.45L593.29 283.45Z" fill="#d8281f"/>
<path d="M611.71 279.18L613.31 282.06L610.11 282.06Z" fill="#d8281f"/>
<path d="M628.54 278.14L630.14 281.02L626.94 281.02Z" fill="#d8281f"/>
<path d="M645.36 277.79L646.96 280.67L643.76 280.67Z" fill="#d8281f"/>
<path d="M665.54 277.44L667.14 280.32L663.94 280.32Z" fill="#d8281f"/>
<rect x="537.7" y="259.1" width="141.3" height="51.8" fill="none" stroke="#111" stroke-width="1.2"/>
<text x="533.9" y="313.5" class="tl" text-anchor="end">2.5</text>
<text x="533.9" y="296.23" class="tl" text-anchor="end">3.0</text>
<text x="533.9" y="278.97" class="tl" text-anchor="end">3.5</text>
<text x="533.9" y="261.7" class="tl" text-anchor="end">4.0</text>
<text x="544.43" y="319.6" class="tl" text-anchor="middle">0</text>
<text x="578.07" y="319.6" class="tl" text-anchor="middle">50</text>
<text x="611.71" y="319.6" class="tl" text-anchor="middle">100</text>
<text x="645.36" y="319.6" class="tl" text-anchor="middle">150</text>
<text x="679" y="319.6" class="tl" text-anchor="middle">200</text>
<path d="M610.8 295.2H623.9" stroke="#d8281f" stroke-width="0.6"/>
<circle cx="617.9" cy="295.2" r="1.22" fill="#d8281f"/>
<text x="626.1" y="297.3" class="li3" fill="#d8281f" stroke="#d8281f">XZ</text>
<path d="M610.8 301.4H623.9" stroke="#d8281f" stroke-width="0.6"/>
<path d="M617.9 299.96L619.34 302.55L616.46 302.55Z" fill="#d8281f"/>
<text x="626.1" y="303.5" class="li3" fill="#d8281f" stroke="#d8281f">YZ</text>
<path d="M636.8 293Q638.3 293 638.3 294.5V296.35Q638.3 297.85 639.8 297.85Q638.3 297.85 638.3 299.35V301.2Q638.3 302.7 636.8 302.7" stroke="#d8281f" stroke-width="1.1" fill="none"/>
<text x="641.9" y="299.8" class="lt" fill="#d8281f" stroke="#d8281f" textLength="34.5" lengthAdjust="spacingAndGlyphs">ENZ03 (dry)</text>
<text x="608.35" y="329.9" class="ax" text-anchor="middle">Pc (MPa)</text>
<text transform="translate(5.5 55.55) rotate(-90)" class="ax" text-anchor="middle"><tspan font-style="italic">V</tspan><tspan font-size="5.2" dx="0.6" dy="1.4" font-style="italic">p</tspan><tspan dx="0.6" dy="-1.4"> (km/s)</tspan></text>
<text transform="translate(5.5 152.5) rotate(-90)" class="ax" text-anchor="middle"><tspan font-style="italic">V</tspan><tspan font-size="5.2" dx="0.6" dy="1.4" font-style="italic">s</tspan><tspan dx="0.6" dy="-1.4"> (km/s)</tspan></text>
<text transform="translate(5.5 218.9) rotate(-90)" class="ax" text-anchor="middle"><tspan font-style="italic">V</tspan><tspan font-size="5.2" dx="0.6" dy="1.4" font-style="italic">s</tspan><tspan dx="0.6" dy="-1.4"> (km/s)</tspan></text>
<text transform="translate(5.5 285.8) rotate(-90)" class="ax" text-anchor="middle"><tspan font-style="italic">V</tspan><tspan font-size="5.2" dx="0.6" dy="1.4" font-style="italic">s</tspan><tspan dx="0.6" dy="-1.4"> (km/s)</tspan></text>
</svg>
</body></html>
